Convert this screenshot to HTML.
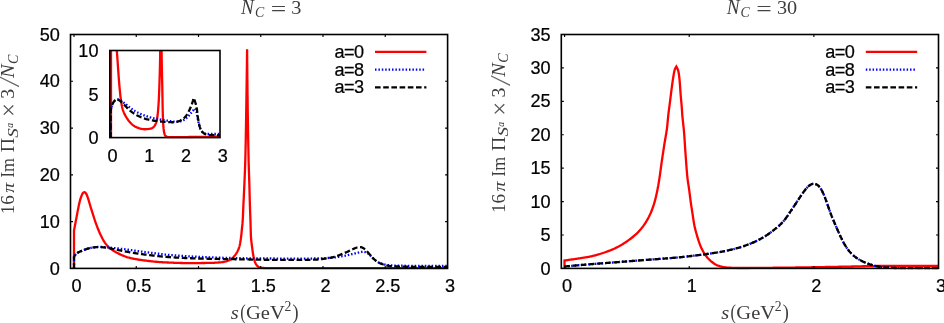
<!DOCTYPE html>
<html><head><meta charset="utf-8"><title>chart</title>
<style>html,body{margin:0;padding:0;background:#fff;overflow:hidden}svg{display:block;will-change:transform}</style>
</head><body>
<svg width="944" height="323" viewBox="0 0 944 323" font-family="Liberation Sans, sans-serif" fill="#000">
<rect width="944" height="323" fill="#fff"/>
<defs><clipPath id="cl"><rect x="70.50" y="34.50" width="377.10" height="234.90"/></clipPath><clipPath id="ci"><rect x="109.80" y="50.50" width="110.20" height="87.90"/></clipPath><clipPath id="cr"><rect x="561.30" y="34.50" width="377.20" height="234.90"/></clipPath></defs>
<g clip-path="url(#cl)">
<path d="M74.00,268.40 L74.00,230.50 L74.00,230.50 L74.15,229.71 L74.30,228.93 L74.46,228.14 L74.61,227.36 L74.76,226.57 L74.91,225.78 L75.06,225.00 L75.21,224.21 L75.36,223.43 L75.51,222.64 L75.66,221.85 L75.81,221.07 L75.96,220.28 L76.11,219.49 L76.26,218.71 L76.41,217.92 L76.55,217.13 L76.70,216.35 L76.85,215.56 L76.99,214.77 L77.14,213.99 L77.28,213.20 L77.43,212.41 L77.58,211.63 L77.73,210.84 L77.89,210.06 L78.05,209.27 L78.20,208.48 L78.36,207.70 L78.52,206.91 L78.68,206.13 L78.84,205.34 L79.00,204.56 L79.18,203.77 L79.35,202.99 L79.54,202.22 L79.73,201.44 L79.94,200.67 L80.15,199.90 L80.37,199.13 L80.61,198.36 L80.86,197.60 L81.13,196.84 L81.41,196.09 L81.71,195.35 L82.03,194.61 L82.38,193.89 L82.79,193.21 L83.29,192.64 L83.88,192.26 L84.52,192.21 L85.13,192.48 L85.67,193.00 L86.12,193.64 L86.51,194.35 L86.84,195.07 L87.15,195.80 L87.44,196.54 L87.71,197.29 L87.97,198.04 L88.22,198.80 L88.45,199.57 L88.68,200.34 L88.91,201.11 L89.13,201.89 L89.35,202.67 L89.57,203.44 L89.79,204.22 L90.01,204.99 L90.24,205.76 L90.48,206.53 L90.72,207.29 L90.96,208.06 L91.20,208.82 L91.44,209.58 L91.68,210.35 L91.92,211.11 L92.16,211.88 L92.40,212.64 L92.63,213.41 L92.87,214.17 L93.11,214.94 L93.35,215.70 L93.60,216.46 L93.84,217.23 L94.09,217.99 L94.34,218.75 L94.59,219.51 L94.85,220.26 L95.11,221.02 L95.37,221.77 L95.64,222.53 L95.91,223.28 L96.18,224.03 L96.46,224.78 L96.74,225.54 L97.02,226.29 L97.30,227.04 L97.59,227.79 L97.88,228.54 L98.17,229.28 L98.47,230.03 L98.78,230.77 L99.09,231.51 L99.40,232.24 L99.73,232.98 L100.05,233.70 L100.39,234.43 L100.73,235.15 L101.08,235.87 L101.43,236.59 L101.79,237.31 L102.16,238.03 L102.54,238.74 L102.93,239.45 L103.32,240.16 L103.73,240.85 L104.15,241.53 L104.59,242.20 L105.03,242.86 L105.49,243.49 L105.98,244.12 L106.48,244.73 L107.01,245.33 L107.56,245.92 L108.13,246.49 L108.71,247.05 L109.31,247.59 L109.91,248.12 L110.53,248.62 L111.16,249.12 L111.80,249.59 L112.45,250.06 L113.12,250.50 L113.80,250.94 L114.49,251.35 L115.18,251.75 L115.87,252.14 L116.58,252.52 L117.28,252.90 L117.99,253.27 L118.71,253.63 L119.43,253.99 L120.16,254.34 L120.89,254.69 L121.62,255.03 L122.36,255.35 L123.11,255.67 L123.85,255.97 L124.60,256.26 L125.35,256.54 L126.10,256.80 L126.86,257.05 L127.62,257.28 L128.38,257.49 L129.14,257.70 L129.91,257.90 L130.68,258.09 L131.46,258.27 L132.24,258.45 L133.03,258.62 L133.82,258.78 L134.61,258.93 L135.40,259.08 L136.19,259.23 L136.98,259.37 L137.78,259.50 L138.57,259.63 L139.36,259.75 L140.15,259.86 L140.94,259.97 L141.73,260.08 L142.53,260.19 L143.32,260.30 L144.11,260.40 L144.90,260.51 L145.70,260.61 L146.49,260.71 L147.29,260.81 L148.08,260.91 L148.88,261.00 L149.67,261.10 L150.47,261.19 L151.27,261.28 L152.06,261.37 L152.86,261.45 L153.66,261.53 L154.46,261.61 L155.25,261.69 L156.05,261.76 L156.85,261.84 L157.65,261.91 L158.45,261.97 L159.25,262.03 L160.05,262.09 L160.84,262.15 L161.64,262.20 L162.44,262.25 L163.24,262.30 L164.04,262.34 L164.84,262.38 L165.64,262.42 L166.43,262.45 L167.23,262.49 L168.03,262.52 L168.83,262.56 L169.63,262.59 L170.43,262.62 L171.23,262.66 L172.03,262.69 L172.83,262.72 L173.63,262.75 L174.43,262.78 L175.23,262.81 L176.03,262.83 L176.83,262.86 L177.63,262.89 L178.43,262.91 L179.23,262.93 L180.03,262.96 L180.83,262.98 L181.63,263.00 L182.43,263.01 L183.24,263.03 L184.04,263.04 L184.84,263.06 L185.64,263.07 L186.44,263.08 L187.24,263.09 L188.04,263.09 L188.84,263.10 L189.64,263.10 L190.44,263.10 L191.24,263.10 L192.04,263.10 L192.84,263.09 L193.64,263.09 L194.44,263.09 L195.24,263.08 L196.04,263.08 L196.84,263.07 L197.64,263.07 L198.44,263.06 L199.25,263.05 L200.05,263.04 L200.85,263.03 L201.65,263.02 L202.45,263.01 L203.25,263.00 L204.05,262.99 L204.85,262.98 L205.65,262.97 L206.45,262.96 L207.25,262.94 L208.05,262.93 L208.85,262.92 L209.65,262.90 L210.45,262.88 L211.25,262.86 L212.05,262.84 L212.86,262.81 L213.66,262.78 L214.46,262.75 L215.27,262.71 L216.07,262.66 L216.87,262.61 L217.67,262.56 L218.47,262.50 L219.27,262.44 L220.06,262.38 L220.85,262.31 L221.64,262.23 L222.44,262.13 L223.23,262.01 L224.03,261.87 L224.84,261.70 L225.63,261.50 L226.42,261.28 L227.19,261.03 L227.94,260.77 L228.66,260.49 L229.36,260.18 L230.04,259.83 L230.70,259.43 L231.36,258.98 L232.00,258.47 L232.62,257.92 L233.22,257.34 L233.80,256.74 L234.35,256.12 L234.86,255.49 L235.35,254.86 L235.80,254.22 L236.23,253.57 L236.64,252.90 L237.04,252.20 L237.42,251.49 L237.79,250.76 L238.13,250.01 L238.45,249.26 L238.75,248.50 L239.01,247.74 L239.25,246.98 L239.46,246.22 L239.65,245.45 L239.82,244.68 L239.99,243.90 L240.14,243.12 L240.28,242.33 L240.42,241.54 L240.55,240.74 L240.67,239.94 L240.78,239.14 L240.89,238.34 L241.00,237.55 L241.10,236.75 L241.20,235.95 L241.30,235.16 L241.39,234.36 L241.47,233.57 L241.55,232.77 L241.63,231.97 L241.70,231.18 L241.77,230.38 L241.85,229.58 L241.93,228.78 L242.00,227.99 L242.09,227.19 L242.17,226.40 L242.26,225.60 L242.34,224.80 L242.42,224.01 L242.50,223.21 L242.56,222.41 L242.62,221.62 L242.67,220.82 L242.72,220.02 L242.77,219.22 L242.81,218.42 L242.85,217.62 L242.89,216.82 L242.93,216.02 L242.97,215.22 L243.00,214.42 L243.04,213.62 L243.07,212.82 L243.10,212.02 L243.14,211.22 L243.17,210.42 L243.20,209.62 L243.23,208.82 L243.27,208.02 L243.30,207.22 L243.34,206.42 L243.37,205.62 L243.41,204.82 L243.45,204.03 L243.48,203.23 L243.52,202.43 L243.56,201.63 L243.60,200.83 L243.64,200.03 L243.68,199.23 L243.72,198.43 L243.76,197.63 L243.80,196.83 L243.83,196.03 L243.87,195.23 L243.91,194.43 L243.95,193.63 L243.99,192.83 L244.03,192.03 L244.06,191.23 L244.10,190.43 L244.14,189.63 L244.17,188.83 L244.21,188.04 L244.25,187.24 L244.28,186.44 L244.32,185.64 L244.35,184.84 L244.38,184.04 L244.42,183.24 L244.45,182.44 L244.49,181.64 L244.52,180.84 L244.56,180.04 L244.59,179.24 L244.63,178.44 L244.66,177.64 L244.69,176.84 L244.73,176.04 L244.76,175.24 L244.79,174.44 L244.83,173.64 L244.86,172.84 L244.89,172.04 L244.92,171.24 L244.96,170.44 L244.99,169.64 L245.02,168.84 L245.05,168.04 L245.07,167.24 L245.10,166.44 L245.13,165.64 L245.16,164.84 L245.18,164.04 L245.21,163.24 L245.23,162.44 L245.25,161.64 L245.28,160.84 L245.30,160.04 L245.32,159.24 L245.34,158.44 L245.36,157.64 L245.38,156.84 L245.40,156.04 L245.42,155.24 L245.44,154.44 L245.46,153.64 L245.48,152.84 L245.49,152.04 L245.51,151.24 L245.53,150.44 L245.55,149.64 L245.57,148.84 L245.58,148.04 L245.60,147.24 L245.62,146.44 L245.63,145.64 L245.65,144.84 L245.67,144.04 L245.68,143.24 L245.70,142.44 L245.72,141.64 L245.73,140.84 L245.75,140.04 L245.76,139.24 L245.78,138.44 L245.79,137.64 L245.81,136.84 L245.82,136.04 L245.84,135.24 L245.85,134.44 L245.86,133.64 L245.88,132.84 L245.89,132.04 L245.91,131.23 L245.92,130.43 L245.93,129.63 L245.95,128.83 L245.96,128.03 L245.97,127.23 L245.99,126.43 L246.00,125.63 L246.01,124.83 L246.03,124.03 L246.04,123.23 L246.05,122.43 L246.07,121.63 L246.08,120.83 L246.09,120.03 L246.10,119.23 L246.12,118.43 L246.13,117.63 L246.14,116.83 L246.15,116.03 L246.17,115.23 L246.18,114.43 L246.19,113.63 L246.20,112.83 L246.21,112.03 L246.23,111.23 L246.24,110.43 L246.25,109.63 L246.26,108.82 L246.28,108.02 L246.29,107.22 L246.30,106.42 L246.31,105.62 L246.33,104.82 L246.34,104.02 L246.35,103.22 L246.36,102.42 L246.37,101.62 L246.39,100.82 L246.40,100.02 L246.41,99.22 L246.42,98.42 L246.44,97.62 L246.45,96.82 L246.46,96.02 L246.47,95.22 L246.49,94.42 L246.50,93.62 L246.51,92.82 L246.52,92.02 L246.53,91.22 L246.55,90.42 L246.56,89.62 L246.57,88.82 L246.58,88.02 L246.59,87.22 L246.61,86.42 L246.62,85.62 L246.63,84.82 L246.64,84.01 L246.65,83.21 L246.66,82.41 L246.68,81.61 L246.69,80.81 L246.70,80.01 L246.71,79.21 L246.72,78.41 L246.73,77.61 L246.74,76.81 L246.76,76.01 L246.77,75.21 L246.78,74.41 L246.79,73.61 L246.80,72.81 L246.81,72.01 L246.82,71.21 L246.83,70.41 L246.84,69.61 L246.85,68.81 L246.86,68.01 L246.88,67.21 L246.89,66.41 L246.90,65.61 L246.91,64.81 L246.92,64.01 L246.93,63.21 L246.94,62.41 L246.95,61.61 L246.96,60.81 L246.97,60.00 L246.98,59.20 L246.99,58.40 L247.00,57.60 L247.01,56.80 L247.02,56.00 L247.03,55.20 L247.04,54.40 L247.05,53.60 L247.06,52.80 L247.07,52.00 L247.08,51.20 L247.09,50.40 L247.10,49.60 L247.10,49.20 L247.11,50.00 L247.11,50.80 L247.12,51.60 L247.12,52.40 L247.13,53.20 L247.13,54.00 L247.14,54.80 L247.15,55.60 L247.15,56.41 L247.16,57.21 L247.16,58.01 L247.17,58.81 L247.18,59.61 L247.18,60.41 L247.19,61.21 L247.20,62.01 L247.20,62.81 L247.21,63.61 L247.22,64.41 L247.23,65.21 L247.23,66.01 L247.24,66.81 L247.25,67.61 L247.25,68.41 L247.26,69.21 L247.27,70.01 L247.28,70.82 L247.29,71.62 L247.29,72.42 L247.30,73.22 L247.31,74.02 L247.32,74.82 L247.32,75.62 L247.33,76.42 L247.34,77.22 L247.35,78.02 L247.36,78.82 L247.37,79.62 L247.37,80.42 L247.38,81.22 L247.39,82.02 L247.40,82.82 L247.41,83.62 L247.42,84.42 L247.43,85.22 L247.44,86.03 L247.44,86.83 L247.45,87.63 L247.46,88.43 L247.47,89.23 L247.48,90.03 L247.49,90.83 L247.50,91.63 L247.51,92.43 L247.52,93.23 L247.53,94.03 L247.54,94.83 L247.55,95.63 L247.56,96.43 L247.57,97.23 L247.58,98.03 L247.59,98.83 L247.60,99.63 L247.61,100.43 L247.62,101.24 L247.63,102.04 L247.64,102.84 L247.65,103.64 L247.66,104.44 L247.67,105.24 L247.68,106.04 L247.69,106.84 L247.70,107.64 L247.71,108.44 L247.72,109.24 L247.73,110.04 L247.74,110.84 L247.75,111.64 L247.76,112.44 L247.77,113.24 L247.78,114.04 L247.79,114.84 L247.81,115.64 L247.82,116.45 L247.83,117.25 L247.84,118.05 L247.85,118.85 L247.86,119.65 L247.88,120.45 L247.89,121.25 L247.90,122.05 L247.91,122.85 L247.92,123.65 L247.94,124.45 L247.95,125.25 L247.96,126.05 L247.97,126.85 L247.99,127.65 L248.00,128.45 L248.01,129.25 L248.02,130.05 L248.04,130.85 L248.05,131.65 L248.06,132.46 L248.08,133.26 L248.09,134.06 L248.10,134.86 L248.12,135.66 L248.13,136.46 L248.15,137.26 L248.16,138.06 L248.18,138.86 L248.19,139.66 L248.20,140.46 L248.22,141.26 L248.23,142.06 L248.25,142.86 L248.26,143.66 L248.28,144.46 L248.29,145.26 L248.31,146.06 L248.32,146.86 L248.34,147.66 L248.36,148.46 L248.37,149.26 L248.39,150.07 L248.40,150.87 L248.42,151.67 L248.44,152.47 L248.45,153.27 L248.47,154.07 L248.49,154.87 L248.51,155.67 L248.52,156.47 L248.54,157.27 L248.56,158.07 L248.58,158.87 L248.59,159.67 L248.61,160.47 L248.63,161.27 L248.65,162.07 L248.67,162.87 L248.69,163.67 L248.72,164.47 L248.74,165.27 L248.76,166.07 L248.79,166.87 L248.81,167.67 L248.83,168.47 L248.86,169.27 L248.89,170.07 L248.91,170.87 L248.94,171.67 L248.96,172.47 L248.99,173.27 L249.02,174.07 L249.04,174.87 L249.07,175.67 L249.10,176.47 L249.12,177.27 L249.15,178.07 L249.18,178.87 L249.20,179.67 L249.23,180.47 L249.26,181.28 L249.28,182.08 L249.31,182.88 L249.33,183.68 L249.35,184.48 L249.38,185.28 L249.40,186.08 L249.42,186.88 L249.45,187.68 L249.47,188.48 L249.49,189.28 L249.51,190.08 L249.53,190.88 L249.55,191.68 L249.57,192.48 L249.59,193.28 L249.61,194.08 L249.63,194.88 L249.65,195.68 L249.67,196.48 L249.69,197.28 L249.71,198.08 L249.73,198.88 L249.75,199.68 L249.77,200.48 L249.80,201.28 L249.82,202.08 L249.84,202.88 L249.86,203.68 L249.89,204.48 L249.91,205.28 L249.93,206.08 L249.96,206.88 L249.99,207.68 L250.01,208.48 L250.04,209.28 L250.07,210.08 L250.10,210.88 L250.13,211.68 L250.16,212.48 L250.19,213.28 L250.22,214.08 L250.25,214.88 L250.27,215.68 L250.30,216.48 L250.33,217.28 L250.36,218.09 L250.39,218.89 L250.42,219.69 L250.45,220.49 L250.48,221.29 L250.50,222.09 L250.53,222.89 L250.56,223.69 L250.58,224.49 L250.61,225.29 L250.63,226.09 L250.65,226.89 L250.67,227.69 L250.69,228.49 L250.71,229.29 L250.72,230.09 L250.74,230.89 L250.76,231.69 L250.78,232.49 L250.81,233.29 L250.83,234.09 L250.86,234.89 L250.90,235.69 L250.94,236.49 L250.99,237.29 L251.05,238.08 L251.11,238.88 L251.19,239.68 L251.27,240.48 L251.36,241.27 L251.45,242.07 L251.54,242.86 L251.64,243.66 L251.74,244.45 L251.84,245.25 L251.94,246.04 L252.04,246.84 L252.14,247.63 L252.25,248.43 L252.35,249.22 L252.46,250.02 L252.57,250.81 L252.68,251.61 L252.80,252.40 L252.92,253.19 L253.05,253.98 L253.19,254.77 L253.33,255.56 L253.48,256.34 L253.65,257.13 L253.82,257.92 L254.00,258.71 L254.20,259.50 L254.42,260.29 L254.65,261.06 L254.91,261.82 L255.19,262.56 L255.51,263.29 L255.87,263.99 L256.29,264.68 L256.76,265.33 L257.29,265.93 L257.87,266.45 L258.50,266.88 L259.17,267.22 L259.89,267.47 L260.65,267.66 L261.44,267.79 L262.24,267.89 L263.05,267.96 L263.85,268.00 L264.65,268.03 L265.45,268.05 L266.25,268.07 L267.05,268.09 L267.85,268.10 L268.65,268.12 L269.45,268.13 L270.25,268.14 L271.05,268.15 L271.86,268.16 L272.66,268.17 L273.46,268.17 L274.26,268.18 L275.07,268.18 L275.87,268.19 L276.67,268.19 L277.47,268.20 L278.27,268.20 L279.08,268.20 L279.88,268.20 L280.68,268.20 L281.48,268.20 L282.28,268.20 L283.08,268.20 L283.88,268.20 L284.68,268.20 L285.48,268.20 L286.28,268.20 L287.08,268.20 L287.88,268.20 L288.68,268.20 L289.48,268.20 L290.29,268.20 L291.09,268.20 L291.89,268.20 L292.69,268.20 L293.49,268.20 L294.29,268.20 L295.09,268.20 L295.89,268.20 L296.69,268.20 L297.49,268.20 L298.29,268.20 L299.09,268.20 L299.89,268.20 L300.69,268.20 L301.49,268.20 L302.29,268.20 L303.09,268.20 L303.89,268.20 L304.70,268.20 L305.50,268.20 L306.30,268.20 L307.10,268.20 L307.90,268.20 L308.70,268.20 L309.50,268.20 L310.30,268.20 L311.10,268.20 L311.90,268.20 L312.70,268.20 L313.50,268.20 L314.30,268.20 L315.10,268.20 L315.90,268.20 L316.70,268.20 L317.50,268.20 L318.30,268.20 L319.11,268.20 L319.91,268.20 L320.71,268.20 L321.51,268.20 L322.31,268.20 L323.11,268.20 L323.91,268.20 L324.71,268.20 L325.51,268.20 L326.31,268.20 L327.11,268.20 L327.91,268.20 L328.71,268.20 L329.51,268.20 L330.31,268.20 L331.11,268.20 L331.91,268.20 L332.71,268.20 L333.52,268.20 L334.32,268.20 L335.12,268.20 L335.92,268.20 L336.72,268.20 L337.52,268.20 L338.32,268.20 L339.12,268.20 L339.92,268.20 L340.72,268.20 L341.52,268.20 L342.32,268.20 L343.12,268.20 L343.92,268.20 L344.72,268.20 L345.52,268.20 L346.32,268.20 L347.12,268.20 L347.93,268.20 L348.73,268.20 L349.53,268.20 L350.33,268.20 L351.13,268.20 L351.93,268.20 L352.73,268.20 L353.53,268.20 L354.33,268.20 L355.13,268.20 L355.93,268.20 L356.73,268.20 L357.53,268.20 L358.33,268.20 L359.13,268.20 L359.93,268.20 L360.73,268.20 L361.54,268.20 L362.34,268.20 L363.14,268.20 L363.94,268.20 L364.74,268.20 L365.54,268.20 L366.34,268.20 L367.14,268.20 L367.94,268.20 L368.74,268.20 L369.54,268.20 L370.34,268.20 L371.14,268.20 L371.94,268.20 L372.74,268.20 L373.54,268.20 L374.34,268.20 L375.15,268.20 L375.95,268.20 L376.75,268.20 L377.55,268.20 L378.35,268.20 L379.15,268.20 L379.95,268.20 L380.75,268.20 L381.55,268.20 L382.35,268.20 L383.15,268.20 L383.95,268.20 L384.75,268.20 L385.55,268.20 L386.35,268.20 L387.15,268.20 L387.95,268.20 L388.76,268.20 L389.56,268.20 L390.36,268.20 L391.16,268.20 L391.96,268.20 L392.76,268.20 L393.56,268.20 L394.36,268.20 L395.16,268.20 L395.96,268.20 L396.76,268.20 L397.56,268.20 L398.36,268.20 L399.16,268.20 L399.96,268.20 L400.76,268.20 L401.56,268.20 L402.37,268.20 L403.17,268.20 L403.97,268.20 L404.77,268.20 L405.57,268.20 L406.37,268.20 L407.17,268.20 L407.97,268.20 L408.77,268.20 L409.57,268.20 L410.37,268.20 L411.17,268.20 L411.97,268.20 L412.77,268.20 L413.57,268.20 L414.37,268.20 L415.17,268.20 L415.98,268.20 L416.78,268.20 L417.58,268.20 L418.38,268.20 L419.18,268.20 L419.98,268.20 L420.78,268.20 L421.58,268.20 L422.38,268.20 L423.18,268.20 L423.98,268.20 L424.78,268.20 L425.58,268.20 L426.38,268.20 L427.18,268.20 L427.98,268.20 L428.79,268.20 L429.59,268.20 L430.39,268.20 L431.19,268.20 L431.99,268.20 L432.79,268.20 L433.59,268.20 L434.39,268.20 L435.19,268.20 L435.99,268.20 L436.79,268.20 L437.59,268.20 L438.39,268.20 L439.19,268.20 L439.99,268.20 L440.79,268.20 L441.60,268.20 L442.40,268.20 L443.20,268.20 L444.00,268.20 L444.80,268.20 L445.60,268.20 L446.40,268.20 L447.20,268.20 L447.60,268.20" fill="none" stroke="#ff0000" stroke-width="2.3" stroke-linejoin="miter" stroke-miterlimit="12"/>
<path d="M74.00,268.40 L74.00,257.00 L74.00,257.00 L74.39,256.28 L74.79,255.58 L75.24,254.93 L75.74,254.33 L76.29,253.78 L76.90,253.30 L77.55,252.85 L78.24,252.45 L78.95,252.08 L79.67,251.73 L80.40,251.40 L81.13,251.09 L81.88,250.78 L82.62,250.49 L83.37,250.20 L84.12,249.92 L84.87,249.64 L85.63,249.36 L86.38,249.09 L87.14,248.84 L87.90,248.60 L88.67,248.38 L89.44,248.19 L90.22,248.01 L91.00,247.86 L91.79,247.71 L92.58,247.58 L93.37,247.46 L94.17,247.35 L94.96,247.25 L95.76,247.16 L96.55,247.08 L97.35,247.01 L98.15,246.97 L98.95,246.95 L99.74,246.94 L100.54,246.96 L101.34,246.99 L102.14,247.03 L102.94,247.07 L103.74,247.12 L104.54,247.17 L105.34,247.22 L106.14,247.28 L106.93,247.35 L107.73,247.42 L108.53,247.49 L109.32,247.57 L110.12,247.65 L110.91,247.74 L111.71,247.82 L112.51,247.90 L113.30,247.98 L114.10,248.06 L114.89,248.14 L115.69,248.22 L116.49,248.31 L117.28,248.39 L118.08,248.48 L118.87,248.56 L119.67,248.65 L120.46,248.74 L121.26,248.84 L122.05,248.93 L122.85,249.03 L123.64,249.13 L124.43,249.23 L125.23,249.33 L126.02,249.44 L126.81,249.55 L127.61,249.65 L128.40,249.76 L129.19,249.87 L129.98,249.98 L130.78,250.09 L131.57,250.20 L132.36,250.31 L133.15,250.42 L133.95,250.53 L134.74,250.64 L135.53,250.76 L136.32,250.87 L137.11,250.99 L137.91,251.10 L138.70,251.21 L139.49,251.33 L140.28,251.44 L141.08,251.54 L141.87,251.65 L142.66,251.76 L143.45,251.86 L144.25,251.96 L145.04,252.06 L145.84,252.16 L146.63,252.26 L147.42,252.36 L148.22,252.46 L149.01,252.55 L149.81,252.65 L150.60,252.75 L151.39,252.84 L152.19,252.94 L152.98,253.04 L153.78,253.14 L154.57,253.24 L155.37,253.34 L156.16,253.44 L156.95,253.54 L157.75,253.65 L158.54,253.75 L159.33,253.85 L160.13,253.95 L160.92,254.05 L161.72,254.15 L162.51,254.25 L163.30,254.34 L164.10,254.43 L164.89,254.52 L165.69,254.60 L166.49,254.69 L167.28,254.76 L168.08,254.84 L168.87,254.91 L169.67,254.98 L170.47,255.05 L171.26,255.12 L172.06,255.19 L172.86,255.25 L173.66,255.31 L174.45,255.38 L175.25,255.44 L176.05,255.50 L176.85,255.56 L177.64,255.62 L178.44,255.68 L179.24,255.73 L180.04,255.79 L180.84,255.84 L181.64,255.89 L182.44,255.95 L183.23,256.00 L184.03,256.05 L184.83,256.10 L185.63,256.15 L186.43,256.19 L187.23,256.24 L188.03,256.29 L188.83,256.33 L189.62,256.38 L190.42,256.42 L191.22,256.46 L192.02,256.51 L192.82,256.55 L193.62,256.59 L194.42,256.63 L195.22,256.67 L196.02,256.71 L196.81,256.75 L197.61,256.79 L198.41,256.83 L199.21,256.86 L200.01,256.90 L200.81,256.94 L201.61,256.97 L202.41,257.01 L203.21,257.04 L204.01,257.08 L204.81,257.11 L205.61,257.14 L206.41,257.18 L207.21,257.21 L208.01,257.24 L208.81,257.27 L209.61,257.30 L210.40,257.33 L211.20,257.36 L212.00,257.39 L212.80,257.42 L213.60,257.45 L214.40,257.48 L215.20,257.51 L216.00,257.53 L216.80,257.56 L217.60,257.59 L218.40,257.62 L219.20,257.65 L220.00,257.67 L220.80,257.70 L221.60,257.73 L222.40,257.75 L223.20,257.78 L224.00,257.81 L224.80,257.83 L225.60,257.86 L226.40,257.88 L227.20,257.91 L228.00,257.93 L228.80,257.96 L229.60,257.98 L230.40,258.00 L231.20,258.02 L232.00,258.04 L232.80,258.06 L233.60,258.08 L234.40,258.10 L235.20,258.12 L235.99,258.14 L236.79,258.15 L237.59,258.17 L238.39,258.18 L239.19,258.19 L239.99,258.21 L240.79,258.22 L241.59,258.23 L242.39,258.24 L243.19,258.25 L243.99,258.26 L244.79,258.27 L245.59,258.28 L246.39,258.29 L247.19,258.30 L247.99,258.31 L248.79,258.32 L249.59,258.33 L250.39,258.34 L251.19,258.35 L251.99,258.36 L252.79,258.37 L253.59,258.38 L254.39,258.38 L255.19,258.39 L255.99,258.40 L256.79,258.41 L257.59,258.41 L258.39,258.42 L259.19,258.43 L259.99,258.43 L260.80,258.44 L261.60,258.45 L262.40,258.45 L263.20,258.46 L264.00,258.46 L264.80,258.47 L265.60,258.47 L266.40,258.48 L267.20,258.48 L268.00,258.49 L268.80,258.49 L269.60,258.50 L270.40,258.50 L271.20,258.51 L272.00,258.51 L272.80,258.51 L273.60,258.52 L274.40,258.52 L275.20,258.53 L276.00,258.53 L276.80,258.53 L277.60,258.54 L278.40,258.54 L279.20,258.55 L280.00,258.55 L280.80,258.55 L281.60,258.56 L282.40,258.56 L283.20,258.56 L284.00,258.57 L284.80,258.57 L285.60,258.57 L286.40,258.58 L287.20,258.58 L288.00,258.58 L288.80,258.58 L289.60,258.59 L290.40,258.59 L291.20,258.59 L292.00,258.59 L292.80,258.59 L293.60,258.59 L294.40,258.60 L295.20,258.60 L296.00,258.60 L296.80,258.60 L297.60,258.60 L298.40,258.60 L299.20,258.60 L300.00,258.60 L300.80,258.60 L301.60,258.59 L302.40,258.59 L303.20,258.59 L304.00,258.59 L304.80,258.58 L305.60,258.58 L306.40,258.57 L307.20,258.56 L308.00,258.56 L308.80,258.55 L309.60,258.54 L310.40,258.54 L311.20,258.53 L312.00,258.52 L312.80,258.51 L313.60,258.50 L314.40,258.49 L315.20,258.48 L316.00,258.46 L316.80,258.44 L317.60,258.43 L318.40,258.40 L319.20,258.38 L320.00,258.36 L320.80,258.33 L321.60,258.30 L322.40,258.27 L323.21,258.23 L324.01,258.20 L324.80,258.16 L325.60,258.12 L326.40,258.08 L327.20,258.04 L328.00,257.99 L328.80,257.95 L329.59,257.90 L330.39,257.84 L331.19,257.79 L331.98,257.72 L332.78,257.65 L333.57,257.57 L334.37,257.48 L335.16,257.38 L335.95,257.28 L336.75,257.16 L337.54,257.04 L338.33,256.91 L339.12,256.78 L339.91,256.65 L340.70,256.51 L341.49,256.37 L342.28,256.23 L343.07,256.09 L343.85,255.94 L344.64,255.79 L345.42,255.64 L346.20,255.48 L346.99,255.31 L347.77,255.14 L348.55,254.96 L349.33,254.78 L350.11,254.60 L350.89,254.42 L351.67,254.23 L352.45,254.05 L353.22,253.86 L354.00,253.67 L354.78,253.48 L355.55,253.28 L356.33,253.09 L357.11,252.89 L357.88,252.70 L358.66,252.51 L359.44,252.33 L360.23,252.16 L361.01,252.01 L361.80,251.88 L362.59,251.81 L363.37,251.80 L364.15,251.87 L364.92,252.03 L365.67,252.26 L366.41,252.56 L367.12,252.92 L367.80,253.32 L368.45,253.76 L369.08,254.25 L369.69,254.78 L370.28,255.33 L370.85,255.90 L371.42,256.47 L371.97,257.06 L372.52,257.66 L373.07,258.25 L373.62,258.82 L374.19,259.38 L374.78,259.91 L375.39,260.41 L376.03,260.88 L376.69,261.34 L377.38,261.76 L378.08,262.16 L378.79,262.53 L379.52,262.87 L380.25,263.17 L380.99,263.44 L381.74,263.68 L382.50,263.91 L383.27,264.12 L384.04,264.32 L384.83,264.51 L385.62,264.68 L386.41,264.84 L387.21,264.98 L388.01,265.10 L388.80,265.21 L389.60,265.29 L390.40,265.35 L391.19,265.40 L391.99,265.44 L392.78,265.48 L393.58,265.51 L394.37,265.53 L395.17,265.56 L395.97,265.59 L396.77,265.61 L397.57,265.63 L398.37,265.65 L399.17,265.67 L399.97,265.69 L400.77,265.71 L401.58,265.72 L402.38,265.73 L403.18,265.75 L403.98,265.76 L404.79,265.77 L405.59,265.78 L406.39,265.78 L407.19,265.79 L407.99,265.79 L408.79,265.80 L409.60,265.80 L410.40,265.80 L411.20,265.80 L412.00,265.80 L412.80,265.80 L413.60,265.80 L414.40,265.80 L415.20,265.80 L416.00,265.80 L416.80,265.80 L417.60,265.80 L418.40,265.80 L419.20,265.80 L420.00,265.80 L420.80,265.80 L421.60,265.80 L422.40,265.80 L423.20,265.80 L424.00,265.80 L424.80,265.80 L425.60,265.80 L426.40,265.80 L427.20,265.80 L428.00,265.80 L428.80,265.80 L429.60,265.80 L430.40,265.80 L431.20,265.80 L432.00,265.80 L432.80,265.80 L433.60,265.80 L434.40,265.80 L435.20,265.80 L436.00,265.80 L436.80,265.80 L437.60,265.80 L438.40,265.80 L439.20,265.80 L440.00,265.80 L440.80,265.80 L441.60,265.80 L442.40,265.80 L443.20,265.80 L444.00,265.80 L444.80,265.80 L445.60,265.80 L446.40,265.80 L447.20,265.80 L447.60,265.80" fill="none" stroke="#0000ff" stroke-width="2.3" stroke-linejoin="round" stroke-miterlimit="12" stroke-dasharray="1.5 1.9"/>
<path d="M74.00,268.40 L74.00,257.00 L74.00,257.00 L74.39,256.28 L74.80,255.58 L75.24,254.93 L75.74,254.33 L76.29,253.78 L76.90,253.29 L77.55,252.85 L78.24,252.45 L78.95,252.08 L79.67,251.73 L80.40,251.40 L81.14,251.08 L81.88,250.78 L82.63,250.49 L83.38,250.20 L84.13,249.91 L84.88,249.63 L85.63,249.36 L86.39,249.09 L87.15,248.83 L87.91,248.60 L88.68,248.38 L89.45,248.18 L90.23,248.01 L91.02,247.85 L91.80,247.70 L92.59,247.57 L93.39,247.46 L94.18,247.36 L94.98,247.27 L95.77,247.19 L96.57,247.13 L97.37,247.08 L98.17,247.06 L98.97,247.05 L99.77,247.06 L100.57,247.09 L101.37,247.14 L102.17,247.21 L102.96,247.28 L103.76,247.36 L104.56,247.45 L105.35,247.55 L106.14,247.67 L106.93,247.79 L107.72,247.93 L108.50,248.08 L109.29,248.23 L110.08,248.39 L110.86,248.56 L111.65,248.72 L112.43,248.88 L113.22,249.04 L114.00,249.20 L114.79,249.35 L115.57,249.51 L116.36,249.67 L117.14,249.83 L117.92,249.99 L118.71,250.14 L119.49,250.30 L120.28,250.46 L121.07,250.61 L121.85,250.77 L122.64,250.92 L123.42,251.07 L124.21,251.23 L124.99,251.38 L125.78,251.53 L126.57,251.68 L127.35,251.83 L128.14,251.98 L128.93,252.12 L129.72,252.27 L130.50,252.41 L131.29,252.54 L132.08,252.68 L132.87,252.81 L133.66,252.93 L134.45,253.06 L135.24,253.18 L136.03,253.31 L136.83,253.43 L137.62,253.55 L138.41,253.66 L139.20,253.78 L139.99,253.89 L140.79,254.00 L141.58,254.11 L142.37,254.22 L143.17,254.33 L143.96,254.43 L144.75,254.54 L145.55,254.64 L146.34,254.74 L147.14,254.84 L147.93,254.94 L148.73,255.03 L149.52,255.13 L150.32,255.22 L151.11,255.32 L151.91,255.41 L152.70,255.50 L153.50,255.59 L154.29,255.68 L155.09,255.77 L155.88,255.86 L156.68,255.95 L157.48,256.03 L158.27,256.12 L159.07,256.21 L159.86,256.29 L160.66,256.37 L161.46,256.46 L162.25,256.54 L163.05,256.61 L163.85,256.69 L164.65,256.76 L165.44,256.83 L166.24,256.89 L167.04,256.95 L167.84,257.01 L168.63,257.07 L169.43,257.13 L170.23,257.18 L171.03,257.23 L171.83,257.28 L172.63,257.34 L173.43,257.39 L174.22,257.43 L175.02,257.48 L175.82,257.53 L176.62,257.57 L177.42,257.62 L178.22,257.66 L179.02,257.71 L179.82,257.75 L180.62,257.79 L181.42,257.83 L182.22,257.87 L183.02,257.91 L183.82,257.94 L184.62,257.98 L185.42,258.01 L186.22,258.05 L187.02,258.08 L187.82,258.11 L188.62,258.15 L189.42,258.18 L190.22,258.21 L191.02,258.24 L191.82,258.26 L192.62,258.29 L193.42,258.32 L194.22,258.35 L195.02,258.37 L195.82,258.40 L196.62,258.43 L197.42,258.45 L198.22,258.48 L199.02,258.50 L199.82,258.52 L200.62,258.55 L201.42,258.57 L202.22,258.59 L203.02,258.61 L203.82,258.64 L204.62,258.66 L205.42,258.68 L206.22,258.70 L207.02,258.72 L207.82,258.74 L208.62,258.76 L209.42,258.78 L210.22,258.80 L211.03,258.81 L211.83,258.83 L212.63,258.85 L213.43,258.87 L214.23,258.88 L215.03,258.90 L215.83,258.92 L216.63,258.93 L217.43,258.95 L218.23,258.96 L219.03,258.98 L219.83,258.99 L220.63,259.01 L221.43,259.02 L222.23,259.03 L223.03,259.05 L223.83,259.06 L224.63,259.07 L225.43,259.08 L226.23,259.10 L227.03,259.11 L227.83,259.12 L228.63,259.13 L229.43,259.15 L230.24,259.16 L231.04,259.17 L231.84,259.18 L232.64,259.19 L233.44,259.21 L234.24,259.22 L235.04,259.23 L235.84,259.24 L236.64,259.25 L237.44,259.27 L238.24,259.28 L239.04,259.29 L239.84,259.31 L240.64,259.32 L241.44,259.33 L242.24,259.35 L243.04,259.36 L243.84,259.38 L244.64,259.39 L245.44,259.41 L246.24,259.42 L247.04,259.44 L247.84,259.45 L248.65,259.47 L249.45,259.49 L250.25,259.50 L251.05,259.52 L251.85,259.53 L252.65,259.55 L253.45,259.57 L254.25,259.58 L255.05,259.60 L255.85,259.61 L256.65,259.63 L257.45,259.64 L258.25,259.65 L259.05,259.67 L259.85,259.68 L260.65,259.69 L261.45,259.71 L262.25,259.72 L263.05,259.73 L263.85,259.74 L264.65,259.75 L265.45,259.76 L266.25,259.77 L267.06,259.78 L267.86,259.78 L268.66,259.79 L269.46,259.80 L270.26,259.80 L271.06,259.81 L271.86,259.81 L272.66,259.81 L273.46,259.82 L274.26,259.82 L275.06,259.83 L275.86,259.83 L276.66,259.84 L277.46,259.84 L278.26,259.84 L279.06,259.85 L279.86,259.85 L280.66,259.85 L281.46,259.86 L282.27,259.86 L283.07,259.86 L283.87,259.87 L284.67,259.87 L285.47,259.87 L286.27,259.88 L287.07,259.88 L287.87,259.88 L288.67,259.88 L289.47,259.89 L290.27,259.89 L291.07,259.89 L291.87,259.89 L292.67,259.89 L293.47,259.89 L294.27,259.90 L295.07,259.90 L295.87,259.90 L296.68,259.90 L297.48,259.90 L298.28,259.90 L299.08,259.90 L299.88,259.90 L300.68,259.89 L301.48,259.89 L302.28,259.89 L303.08,259.88 L303.88,259.87 L304.68,259.86 L305.49,259.85 L306.29,259.84 L307.09,259.83 L307.89,259.82 L308.69,259.81 L309.49,259.79 L310.29,259.78 L311.09,259.76 L311.89,259.74 L312.69,259.72 L313.49,259.70 L314.29,259.67 L315.08,259.64 L315.88,259.60 L316.68,259.55 L317.49,259.50 L318.29,259.44 L319.09,259.36 L319.89,259.29 L320.69,259.20 L321.49,259.11 L322.29,259.01 L323.09,258.91 L323.88,258.80 L324.68,258.69 L325.47,258.57 L326.27,258.44 L327.06,258.32 L327.85,258.19 L328.63,258.05 L329.41,257.91 L330.20,257.77 L330.97,257.62 L331.75,257.46 L332.52,257.29 L333.29,257.09 L334.06,256.89 L334.83,256.66 L335.59,256.42 L336.35,256.17 L337.11,255.91 L337.87,255.64 L338.63,255.35 L339.38,255.07 L340.13,254.77 L340.88,254.48 L341.63,254.18 L342.38,253.88 L343.12,253.58 L343.86,253.28 L344.60,252.98 L345.34,252.66 L346.07,252.34 L346.80,252.02 L347.53,251.68 L348.25,251.35 L348.98,251.00 L349.70,250.66 L350.43,250.32 L351.15,249.98 L351.88,249.64 L352.61,249.30 L353.34,248.97 L354.07,248.63 L354.80,248.31 L355.54,248.00 L356.29,247.73 L357.05,247.49 L357.82,247.30 L358.60,247.17 L359.38,247.11 L360.16,247.12 L360.94,247.23 L361.70,247.42 L362.43,247.69 L363.13,248.03 L363.80,248.43 L364.44,248.89 L365.06,249.41 L365.65,249.95 L366.23,250.52 L366.79,251.11 L367.35,251.70 L367.89,252.30 L368.41,252.91 L368.93,253.53 L369.44,254.15 L369.95,254.78 L370.45,255.41 L370.96,256.03 L371.48,256.64 L372.01,257.24 L372.56,257.81 L373.12,258.37 L373.71,258.90 L374.31,259.43 L374.93,259.94 L375.56,260.45 L376.21,260.94 L376.87,261.41 L377.55,261.87 L378.23,262.29 L378.93,262.69 L379.63,263.05 L380.34,263.38 L381.06,263.69 L381.79,263.97 L382.54,264.24 L383.29,264.49 L384.06,264.73 L384.83,264.96 L385.62,265.17 L386.41,265.37 L387.20,265.55 L387.99,265.70 L388.79,265.84 L389.58,265.95 L390.37,266.04 L391.17,266.11 L391.96,266.17 L392.75,266.23 L393.54,266.28 L394.34,266.32 L395.13,266.37 L395.93,266.41 L396.73,266.45 L397.53,266.48 L398.33,266.52 L399.13,266.55 L399.93,266.58 L400.74,266.61 L401.54,266.64 L402.34,266.66 L403.15,266.69 L403.95,266.71 L404.76,266.72 L405.56,266.74 L406.36,266.76 L407.17,266.77 L407.97,266.78 L408.77,266.79 L409.57,266.79 L410.37,266.80 L411.17,266.81 L411.97,266.81 L412.78,266.81 L413.58,266.82 L414.38,266.82 L415.18,266.83 L415.98,266.83 L416.78,266.83 L417.58,266.84 L418.38,266.84 L419.18,266.84 L419.98,266.85 L420.78,266.85 L421.58,266.85 L422.38,266.86 L423.18,266.86 L423.98,266.86 L424.78,266.86 L425.58,266.87 L426.38,266.87 L427.18,266.87 L427.98,266.87 L428.78,266.88 L429.58,266.88 L430.38,266.88 L431.19,266.88 L431.99,266.88 L432.79,266.88 L433.59,266.89 L434.39,266.89 L435.19,266.89 L435.99,266.89 L436.79,266.89 L437.59,266.89 L438.39,266.89 L439.19,266.90 L439.99,266.90 L440.79,266.90 L441.59,266.90 L442.39,266.90 L443.20,266.90 L444.00,266.90 L444.80,266.90 L445.60,266.90 L446.40,266.90 L447.20,266.90 L447.60,266.90" fill="none" stroke="#000000" stroke-width="2.3" stroke-linejoin="round" stroke-miterlimit="12" stroke-dasharray="5.6 2.6"/>
</g>
<rect x="70.50" y="34.50" width="377.10" height="233.90" fill="none" stroke="#000" stroke-width="1.6"/>
<path d="M74.00,268.40 v-2.50 M74.00,34.50 v2.50 M136.25,268.40 v-2.50 M136.25,34.50 v2.50 M198.50,268.40 v-2.50 M198.50,34.50 v2.50 M260.75,268.40 v-2.50 M260.75,34.50 v2.50 M323.00,268.40 v-2.50 M323.00,34.50 v2.50 M385.25,268.40 v-2.50 M385.25,34.50 v2.50 M70.50,221.62 h2.50 M447.60,221.62 h-2.50 M70.50,174.84 h2.50 M447.60,174.84 h-2.50 M70.50,128.06 h2.50 M447.60,128.06 h-2.50 M70.50,81.28 h2.50 M447.60,81.28 h-2.50" stroke="#000" stroke-width="1.15" fill="none"/>
<text x="59.90" y="274.50" text-anchor="end" font-size="18.1" stroke="#000" stroke-width="0.22" >0</text>
<text x="59.90" y="227.72" text-anchor="end" font-size="18.1" stroke="#000" stroke-width="0.22" >10</text>
<text x="59.90" y="180.94" text-anchor="end" font-size="18.1" stroke="#000" stroke-width="0.22" >20</text>
<text x="59.90" y="134.16" text-anchor="end" font-size="18.1" stroke="#000" stroke-width="0.22" >30</text>
<text x="59.90" y="87.38" text-anchor="end" font-size="18.1" stroke="#000" stroke-width="0.22" >40</text>
<text x="59.90" y="40.60" text-anchor="end" font-size="18.1" stroke="#000" stroke-width="0.22" >50</text>
<text x="76.50" y="291.60" text-anchor="middle" font-size="18.1" stroke="#000" stroke-width="0.22" >0</text>
<text x="138.75" y="291.60" text-anchor="middle" font-size="18.1" stroke="#000" stroke-width="0.22" >0.5</text>
<text x="201.00" y="291.60" text-anchor="middle" font-size="18.1" stroke="#000" stroke-width="0.22" >1</text>
<text x="263.25" y="291.60" text-anchor="middle" font-size="18.1" stroke="#000" stroke-width="0.22" >1.5</text>
<text x="325.50" y="291.60" text-anchor="middle" font-size="18.1" stroke="#000" stroke-width="0.22" >2</text>
<text x="387.75" y="291.60" text-anchor="middle" font-size="18.1" stroke="#000" stroke-width="0.22" >2.5</text>
<text x="450.00" y="291.60" text-anchor="middle" font-size="18.1" stroke="#000" stroke-width="0.22" >3</text>
<rect x="109.80" y="50.50" width="110.20" height="87.10" fill="#fff"/>
<g clip-path="url(#ci)">
<path d="M111.00,137.60 L111.00,45.00 L111.00,45.00 L111.17,43.65 L111.33,42.33 L111.50,41.04 L111.66,39.81 L111.83,38.64 L111.99,37.54 L112.15,36.51 L112.30,35.54 L112.46,34.65 L112.61,33.84 L112.76,33.10 L112.91,32.44 L113.06,31.86 L113.20,31.36 L113.34,30.95 L113.48,30.62 L113.62,30.39 L113.75,30.25 L113.88,30.20 L114.01,30.26 L114.14,30.42 L114.27,30.68 L114.40,31.03 L114.52,31.48 L114.65,32.01 L114.77,32.62 L114.89,33.31 L115.01,34.06 L115.13,34.87 L115.25,35.74 L115.37,36.65 L115.48,37.60 L115.59,38.58 L115.70,39.58 L115.81,40.61 L115.92,41.65 L116.02,42.69 L116.12,43.73 L116.22,44.76 L116.32,45.78 L116.41,46.78 L116.50,47.75 L116.58,48.68 L116.67,49.59 L116.75,50.45 L116.83,51.29 L116.90,52.11 L116.97,52.92 L117.04,53.72 L117.10,54.51 L117.17,55.31 L117.23,56.11 L117.29,56.91 L117.35,57.71 L117.41,58.50 L117.46,59.30 L117.52,60.10 L117.57,60.90 L117.63,61.70 L117.68,62.50 L117.73,63.30 L117.79,64.09 L117.84,64.89 L117.90,65.69 L117.95,66.49 L118.01,67.29 L118.06,68.09 L118.12,68.89 L118.18,69.68 L118.24,70.48 L118.29,71.28 L118.35,72.08 L118.41,72.88 L118.47,73.68 L118.53,74.47 L118.58,75.27 L118.64,76.07 L118.70,76.87 L118.75,77.67 L118.81,78.47 L118.87,79.26 L118.93,80.06 L118.99,80.86 L119.05,81.66 L119.12,82.46 L119.18,83.25 L119.25,84.05 L119.32,84.85 L119.38,85.64 L119.46,86.44 L119.53,87.24 L119.61,88.04 L119.68,88.83 L119.76,89.63 L119.84,90.43 L119.92,91.24 L119.99,92.04 L120.08,92.85 L120.16,93.65 L120.24,94.46 L120.33,95.26 L120.42,96.07 L120.51,96.87 L120.60,97.67 L120.70,98.47 L120.80,99.27 L120.91,100.07 L121.02,100.87 L121.14,101.66 L121.26,102.45 L121.38,103.23 L121.51,104.01 L121.65,104.79 L121.80,105.56 L121.95,106.33 L122.12,107.09 L122.30,107.85 L122.50,108.61 L122.72,109.37 L122.96,110.13 L123.23,110.89 L123.52,111.65 L123.83,112.41 L124.16,113.16 L124.51,113.90 L124.87,114.64 L125.25,115.36 L125.64,116.08 L126.05,116.78 L126.46,117.47 L126.88,118.15 L127.32,118.81 L127.76,119.46 L128.21,120.10 L128.69,120.73 L129.19,121.35 L129.71,121.97 L130.25,122.59 L130.82,123.19 L131.41,123.77 L132.02,124.33 L132.64,124.86 L133.28,125.35 L133.93,125.81 L134.59,126.23 L135.27,126.61 L135.96,126.95 L136.66,127.28 L137.39,127.58 L138.14,127.87 L138.90,128.15 L139.68,128.40 L140.46,128.63 L141.26,128.82 L142.06,128.98 L142.86,129.11 L143.66,129.19 L144.47,129.23 L145.28,129.23 L146.10,129.20 L146.93,129.15 L147.76,129.08 L148.57,128.98 L149.37,128.86 L150.14,128.72 L150.88,128.55 L151.58,128.32 L152.25,128.01 L152.88,127.61 L153.48,127.11 L154.03,126.52 L154.54,125.87 L154.98,125.18 L155.35,124.48 L155.67,123.76 L155.94,123.04 L156.18,122.31 L156.39,121.56 L156.59,120.80 L156.77,120.02 L156.93,119.22 L157.09,118.42 L157.23,117.61 L157.36,116.79 L157.48,115.98 L157.59,115.16 L157.69,114.35 L157.78,113.54 L157.87,112.73 L157.95,111.93 L158.02,111.14 L158.09,110.34 L158.16,109.55 L158.22,108.75 L158.28,107.96 L158.34,107.16 L158.40,106.36 L158.46,105.57 L158.51,104.77 L158.56,103.97 L158.61,103.17 L158.66,102.37 L158.71,101.57 L158.75,100.77 L158.80,99.97 L158.84,99.17 L158.88,98.37 L158.92,97.57 L158.95,96.77 L158.99,95.96 L159.03,95.16 L159.06,94.36 L159.09,93.56 L159.12,92.76 L159.16,91.96 L159.19,91.16 L159.22,90.36 L159.24,89.56 L159.27,88.76 L159.30,87.96 L159.33,87.16 L159.36,86.36 L159.38,85.56 L159.41,84.76 L159.44,83.96 L159.46,83.16 L159.49,82.36 L159.52,81.56 L159.54,80.76 L159.57,79.96 L159.59,79.16 L159.62,78.36 L159.64,77.56 L159.67,76.76 L159.69,75.96 L159.71,75.16 L159.74,74.36 L159.76,73.56 L159.78,72.76 L159.80,71.96 L159.82,71.16 L159.85,70.36 L159.87,69.56 L159.89,68.76 L159.91,67.96 L159.93,67.16 L159.94,66.36 L159.96,65.56 L159.98,64.76 L160.00,63.96 L160.01,63.16 L160.03,62.36 L160.05,61.56 L160.06,60.76 L160.07,59.96 L160.09,59.16 L160.10,58.36 L160.11,57.56 L160.13,56.76 L160.14,55.96 L160.15,55.16 L160.16,54.36 L160.17,53.56 L160.17,52.76 L160.18,51.96 L160.19,51.16 L160.20,50.36 L160.20,49.55 L160.21,48.74 L160.21,47.93 L160.22,47.12 L160.22,46.30 L160.23,45.47 L160.24,44.64 L160.24,43.81 L160.25,42.97 L160.25,42.12 L160.26,41.27 L160.26,40.42 L160.27,39.56 L160.27,38.70 L160.28,37.83 L160.28,36.96 L160.29,36.09 L160.29,35.21 L160.30,34.32 L160.30,33.43 L160.31,32.54 L160.31,31.64 L160.32,30.74 L160.32,29.84 L160.33,28.93 L160.33,28.01 L160.34,27.10 L160.34,26.18 L160.34,25.25 L160.35,24.33 L160.35,23.39 L160.36,22.46 L160.36,21.52 L160.37,20.58 L160.37,19.63 L160.38,18.68 L160.38,17.73 L160.38,16.77 L160.39,15.81 L160.39,14.85 L160.40,13.89 L160.40,12.92 L160.41,11.94 L160.41,10.97 L160.41,9.99 L160.42,9.01 L160.42,8.03 L160.43,7.04 L160.43,6.05 L160.43,5.06 L160.44,4.06 L160.44,3.07 L160.45,2.07 L160.45,1.06 L160.45,0.06 L160.46,-0.95 L160.46,-1.96 L160.46,-2.97 L160.47,-3.98 L160.47,-5.00 L160.48,-6.02 L160.48,-7.04 L160.48,-8.06 L160.49,-9.09 L160.49,-10.12 L160.49,-11.15 L160.50,-12.18 L160.50,-13.21 L160.50,-14.24 L160.51,-15.28 L160.51,-16.32 L160.51,-17.36 L160.52,-18.40 L160.52,-19.44 L160.52,-20.49 L160.53,-21.53 L160.53,-22.58 L160.53,-23.63 L160.54,-24.68 L160.54,-25.73 L160.54,-26.78 L160.55,-27.84 L160.55,-28.89 L160.55,-29.95 L160.56,-31.01 L160.56,-32.06 L160.56,-33.12 L160.57,-34.18 L160.57,-35.24 L160.57,-36.30 L160.58,-37.36 L160.58,-38.43 L160.58,-39.49 L160.58,-40.55 L160.59,-41.62 L160.59,-42.68 L160.59,-43.75 L160.60,-44.81 L160.60,-45.88 L160.60,-46.95 L160.60,-48.01 L160.61,-49.08 L160.61,-50.15 L160.61,-51.21 L160.61,-52.28 L160.62,-53.35 L160.62,-54.41 L160.62,-55.48 L160.63,-56.55 L160.63,-57.61 L160.63,-58.68 L160.63,-59.74 L160.64,-60.81 L160.64,-61.87 L160.64,-62.94 L160.64,-64.00 L160.65,-65.07 L160.65,-66.13 L160.65,-67.19 L160.65,-68.25 L160.65,-69.31 L160.66,-70.37 L160.66,-71.43 L160.66,-72.49 L160.66,-73.55 L160.67,-74.60 L160.67,-75.66 L160.67,-76.71 L160.67,-77.76 L160.68,-78.82 L160.68,-79.87 L160.68,-80.91 L160.68,-81.96 L160.68,-83.01 L160.69,-84.05 L160.69,-85.10 L160.69,-86.14 L160.69,-87.18 L160.70,-88.22 L160.70,-89.25 L160.70,-90.29 L160.70,-91.32 L160.70,-92.35 L160.71,-93.38 L160.71,-94.41 L160.71,-95.44 L160.71,-96.46 L160.71,-97.48 L160.72,-98.50 L160.72,-99.52 L160.72,-100.53 L160.72,-101.55 L160.72,-102.56 L160.73,-103.56 L160.73,-104.57 L160.73,-105.57 L160.73,-106.57 L160.73,-107.57 L160.74,-108.57 L160.74,-109.56 L160.74,-110.55 L160.74,-111.54 L160.74,-112.52 L160.74,-113.50 L160.75,-114.48 L160.75,-115.46 L160.75,-116.43 L160.75,-117.40 L160.75,-118.37 L160.76,-119.33 L160.76,-120.29 L160.76,-121.25 L160.76,-122.20 L160.76,-123.15 L160.76,-124.10 L160.77,-125.04 L160.77,-125.98 L160.77,-126.91 L160.77,-127.85 L160.77,-128.78 L160.77,-129.70 L160.78,-130.62 L160.78,-131.54 L160.78,-132.45 L160.78,-133.36 L160.78,-134.27 L160.78,-135.17 L160.79,-136.07 L160.79,-136.96 L160.79,-137.85 L160.79,-138.74 L160.79,-139.62 L160.79,-140.50 L160.80,-141.37 L160.80,-142.24 L160.80,-143.10 L160.80,-143.96 L160.80,-144.81 L160.80,-145.66 L160.81,-146.51 L160.81,-147.35 L160.81,-148.19 L160.81,-149.02 L160.81,-149.84 L160.81,-150.66 L160.82,-151.48 L160.82,-152.29 L160.82,-153.10 L160.82,-153.90 L160.82,-154.70 L160.82,-155.49 L160.82,-156.27 L160.83,-157.05 L160.83,-157.83 L160.83,-158.60 L160.83,-159.36 L160.83,-160.12 L160.83,-160.88 L160.84,-161.62 L160.84,-162.36 L160.84,-163.10 L160.84,-163.83 L160.84,-164.56 L160.84,-165.28 L160.84,-165.99 L160.85,-166.70 L160.85,-167.40 L160.85,-168.09 L160.85,-168.78 L160.85,-169.47 L160.85,-170.14 L160.86,-170.81 L160.86,-171.48 L160.86,-172.14 L160.86,-172.79 L160.86,-173.43 L160.86,-174.07 L160.86,-174.71 L160.87,-175.33 L160.87,-175.95 L160.87,-176.56 L160.87,-177.17 L160.87,-177.77 L160.87,-178.36 L160.88,-178.95 L160.88,-179.52 L160.88,-180.10 L160.88,-180.66 L160.88,-181.22 L160.88,-181.77 L160.89,-182.31 L160.89,-182.85 L160.89,-183.38 L160.89,-183.90 L160.89,-184.41 L160.89,-184.92 L160.90,-185.42 L160.90,-185.91 L160.90,-186.40 L160.90,-186.87 L160.90,-187.34 L160.90,-187.80 L160.91,-188.26 L160.91,-188.70 L160.91,-189.14 L160.91,-189.57 L160.91,-189.99 L160.91,-190.41 L160.92,-190.81 L160.92,-191.21 L160.92,-191.60 L160.92,-191.98 L160.92,-192.36 L160.92,-192.72 L160.93,-193.08 L160.93,-193.43 L160.93,-193.77 L160.93,-194.10 L160.93,-194.42 L160.93,-194.74 L160.94,-195.04 L160.94,-195.34 L160.94,-195.63 L160.94,-195.91 L160.94,-196.18 L160.95,-196.44 L160.95,-196.69 L160.95,-196.94 L160.95,-197.17 L160.95,-197.40 L160.96,-197.61 L160.96,-197.82 L160.96,-198.02 L160.96,-198.21 L160.96,-198.39 L160.96,-198.56 L160.97,-198.72 L160.97,-198.87 L160.97,-199.02 L160.97,-199.15 L160.97,-199.27 L160.98,-199.38 L160.98,-199.49 L160.98,-199.58 L160.98,-199.67 L160.99,-199.74 L160.99,-199.80 L160.99,-199.86 L160.99,-199.90 L160.99,-199.94 L161.00,-199.96 L161.00,-199.98 L161.00,-199.98 L161.00,-199.97 L161.00,-199.96 L161.01,-199.93 L161.01,-199.89 L161.01,-199.85 L161.01,-199.79 L161.02,-199.72 L161.02,-199.65 L161.02,-199.56 L161.02,-199.46 L161.02,-199.36 L161.03,-199.24 L161.03,-199.12 L161.03,-198.98 L161.03,-198.84 L161.03,-198.68 L161.04,-198.52 L161.04,-198.35 L161.04,-198.17 L161.04,-197.97 L161.04,-197.77 L161.04,-197.56 L161.05,-197.35 L161.05,-197.12 L161.05,-196.88 L161.05,-196.63 L161.05,-196.38 L161.06,-196.11 L161.06,-195.84 L161.06,-195.56 L161.06,-195.27 L161.06,-194.97 L161.06,-194.66 L161.07,-194.35 L161.07,-194.02 L161.07,-193.69 L161.07,-193.34 L161.07,-192.99 L161.07,-192.64 L161.08,-192.27 L161.08,-191.89 L161.08,-191.51 L161.08,-191.12 L161.08,-190.72 L161.08,-190.31 L161.08,-189.89 L161.09,-189.47 L161.09,-189.04 L161.09,-188.60 L161.09,-188.15 L161.09,-187.69 L161.09,-187.23 L161.10,-186.76 L161.10,-186.28 L161.10,-185.80 L161.10,-185.30 L161.10,-184.80 L161.10,-184.29 L161.10,-183.78 L161.10,-183.25 L161.11,-182.72 L161.11,-182.18 L161.11,-181.64 L161.11,-181.09 L161.11,-180.53 L161.11,-179.96 L161.11,-179.39 L161.12,-178.81 L161.12,-178.22 L161.12,-177.63 L161.12,-177.03 L161.12,-176.42 L161.12,-175.81 L161.12,-175.18 L161.13,-174.56 L161.13,-173.92 L161.13,-173.28 L161.13,-172.64 L161.13,-171.98 L161.13,-171.32 L161.13,-170.66 L161.13,-169.98 L161.14,-169.31 L161.14,-168.62 L161.14,-167.93 L161.14,-167.23 L161.14,-166.53 L161.14,-165.82 L161.14,-165.11 L161.14,-164.39 L161.14,-163.66 L161.15,-162.93 L161.15,-162.19 L161.15,-161.45 L161.15,-160.70 L161.15,-159.94 L161.15,-159.18 L161.15,-158.42 L161.15,-157.65 L161.16,-156.87 L161.16,-156.09 L161.16,-155.30 L161.16,-154.51 L161.16,-153.71 L161.16,-152.91 L161.16,-152.10 L161.16,-151.29 L161.16,-150.47 L161.17,-149.65 L161.17,-148.82 L161.17,-147.99 L161.17,-147.15 L161.17,-146.31 L161.17,-145.46 L161.17,-144.61 L161.17,-143.76 L161.18,-142.90 L161.18,-142.03 L161.18,-141.16 L161.18,-140.29 L161.18,-139.41 L161.18,-138.53 L161.18,-137.64 L161.18,-136.75 L161.18,-135.86 L161.19,-134.96 L161.19,-134.06 L161.19,-133.15 L161.19,-132.24 L161.19,-131.33 L161.19,-130.41 L161.19,-129.48 L161.19,-128.56 L161.20,-127.63 L161.20,-126.70 L161.20,-125.76 L161.20,-124.82 L161.20,-123.87 L161.20,-122.93 L161.20,-121.98 L161.20,-121.02 L161.20,-120.06 L161.21,-119.10 L161.21,-118.14 L161.21,-117.17 L161.21,-116.20 L161.21,-115.23 L161.21,-114.25 L161.21,-113.27 L161.21,-112.29 L161.22,-111.31 L161.22,-110.32 L161.22,-109.33 L161.22,-108.33 L161.22,-107.34 L161.22,-106.34 L161.22,-105.34 L161.22,-104.33 L161.23,-103.33 L161.23,-102.32 L161.23,-101.31 L161.23,-100.30 L161.23,-99.28 L161.23,-98.26 L161.23,-97.24 L161.24,-96.22 L161.24,-95.20 L161.24,-94.17 L161.24,-93.14 L161.24,-92.11 L161.24,-91.08 L161.24,-90.05 L161.24,-89.01 L161.25,-87.97 L161.25,-86.93 L161.25,-85.89 L161.25,-84.85 L161.25,-83.81 L161.25,-82.76 L161.26,-81.72 L161.26,-80.67 L161.26,-79.62 L161.26,-78.57 L161.26,-77.52 L161.26,-76.46 L161.26,-75.41 L161.27,-74.35 L161.27,-73.30 L161.27,-72.24 L161.27,-71.18 L161.27,-70.12 L161.27,-69.06 L161.28,-68.00 L161.28,-66.94 L161.28,-65.88 L161.28,-64.82 L161.28,-63.75 L161.28,-62.69 L161.29,-61.62 L161.29,-60.56 L161.29,-59.49 L161.29,-58.43 L161.29,-57.36 L161.29,-56.30 L161.30,-55.23 L161.30,-54.16 L161.30,-53.10 L161.30,-52.03 L161.30,-50.96 L161.30,-49.90 L161.31,-48.83 L161.31,-47.76 L161.31,-46.70 L161.31,-45.63 L161.31,-44.56 L161.32,-43.50 L161.32,-42.43 L161.32,-41.37 L161.32,-40.30 L161.32,-39.24 L161.33,-38.18 L161.33,-37.12 L161.33,-36.05 L161.33,-34.99 L161.33,-33.93 L161.34,-32.87 L161.34,-31.81 L161.34,-30.76 L161.34,-29.70 L161.35,-28.64 L161.35,-27.59 L161.35,-26.54 L161.35,-25.48 L161.35,-24.43 L161.36,-23.38 L161.36,-22.34 L161.36,-21.29 L161.36,-20.24 L161.37,-19.20 L161.37,-18.16 L161.37,-17.11 L161.37,-16.08 L161.38,-15.04 L161.38,-14.00 L161.38,-12.97 L161.38,-11.93 L161.38,-10.90 L161.39,-9.88 L161.39,-8.85 L161.39,-7.82 L161.40,-6.80 L161.40,-5.78 L161.40,-4.76 L161.40,-3.75 L161.41,-2.73 L161.41,-1.72 L161.41,-0.71 L161.41,0.30 L161.42,1.30 L161.42,2.30 L161.42,3.30 L161.42,4.30 L161.43,5.29 L161.43,6.28 L161.43,7.27 L161.44,8.26 L161.44,9.24 L161.44,10.22 L161.45,11.20 L161.45,12.17 L161.45,13.14 L161.45,14.11 L161.46,15.08 L161.46,16.04 L161.46,17.00 L161.47,17.95 L161.47,18.91 L161.47,19.85 L161.48,20.80 L161.48,21.74 L161.48,22.68 L161.49,23.61 L161.49,24.54 L161.49,25.47 L161.50,26.40 L161.50,27.31 L161.50,28.23 L161.51,29.14 L161.51,30.05 L161.51,30.95 L161.52,31.85 L161.52,32.75 L161.52,33.64 L161.53,34.53 L161.53,35.41 L161.54,36.29 L161.54,37.17 L161.54,38.04 L161.55,38.90 L161.55,39.77 L161.55,40.62 L161.56,41.48 L161.56,42.32 L161.57,43.17 L161.57,44.01 L161.57,44.84 L161.58,45.67 L161.58,46.49 L161.59,47.31 L161.59,48.13 L161.59,48.94 L161.60,49.74 L161.60,50.55 L161.61,51.35 L161.62,52.15 L161.62,52.95 L161.63,53.75 L161.64,54.55 L161.65,55.35 L161.66,56.15 L161.67,56.95 L161.68,57.75 L161.69,58.55 L161.70,59.35 L161.71,60.15 L161.73,60.95 L161.74,61.75 L161.75,62.55 L161.77,63.35 L161.78,64.15 L161.80,64.95 L161.81,65.75 L161.83,66.55 L161.85,67.35 L161.86,68.15 L161.88,68.95 L161.90,69.75 L161.91,70.55 L161.93,71.35 L161.95,72.15 L161.97,72.95 L161.98,73.75 L162.00,74.55 L162.02,75.35 L162.04,76.15 L162.06,76.95 L162.08,77.75 L162.09,78.55 L162.11,79.35 L162.13,80.15 L162.15,80.95 L162.17,81.75 L162.18,82.55 L162.20,83.35 L162.22,84.15 L162.24,84.95 L162.25,85.75 L162.27,86.55 L162.29,87.35 L162.30,88.15 L162.32,88.95 L162.33,89.75 L162.35,90.55 L162.36,91.35 L162.38,92.15 L162.39,92.95 L162.41,93.75 L162.42,94.55 L162.43,95.35 L162.45,96.15 L162.46,96.95 L162.47,97.75 L162.49,98.55 L162.50,99.36 L162.51,100.16 L162.53,100.96 L162.54,101.76 L162.55,102.56 L162.57,103.36 L162.58,104.16 L162.60,104.96 L162.61,105.76 L162.63,106.56 L162.65,107.36 L162.66,108.16 L162.68,108.96 L162.70,109.76 L162.72,110.56 L162.74,111.36 L162.76,112.16 L162.78,112.96 L162.80,113.76 L162.82,114.56 L162.85,115.36 L162.87,116.15 L162.90,116.95 L162.92,117.75 L162.95,118.55 L162.98,119.35 L163.01,120.15 L163.05,120.95 L163.08,121.75 L163.12,122.55 L163.17,123.36 L163.22,124.16 L163.27,124.96 L163.33,125.76 L163.40,126.56 L163.47,127.36 L163.55,128.15 L163.63,128.95 L163.73,129.76 L163.83,130.58 L163.96,131.42 L164.10,132.27 L164.27,133.11 L164.47,133.93 L164.72,134.68 L165.03,135.34 L165.42,135.89 L165.91,136.33 L166.52,136.66 L167.22,136.90 L167.97,137.05 L168.76,137.13 L169.56,137.17 L170.35,137.18 L171.15,137.18 L171.95,137.18 L172.75,137.17 L173.55,137.17 L174.36,137.16 L175.16,137.15 L175.97,137.14 L176.77,137.13 L177.58,137.12 L178.38,137.12 L179.19,137.11 L179.99,137.10 L180.79,137.09 L181.59,137.09 L182.39,137.08 L183.19,137.07 L183.99,137.06 L184.79,137.06 L185.59,137.05 L186.39,137.04 L187.19,137.03 L187.99,137.03 L188.79,137.02 L189.59,137.01 L190.40,137.00 L191.20,137.00 L192.00,136.99 L192.80,136.98 L193.60,136.97 L194.40,136.97 L195.20,136.96 L196.00,136.95 L196.80,136.94 L197.60,136.94 L198.40,136.93 L199.20,136.92 L200.00,136.91 L200.80,136.90 L201.60,136.90 L202.40,136.89 L203.20,136.88 L204.00,136.87 L204.80,136.86 L205.60,136.86 L206.40,136.85 L207.20,136.84 L208.00,136.83 L208.80,136.82 L209.60,136.81 L210.40,136.80 L211.20,136.80 L212.00,136.79 L212.80,136.78 L213.60,136.77 L214.40,136.76 L215.20,136.75 L216.00,136.74 L216.80,136.74 L217.60,136.73 L218.40,136.72 L219.20,136.71 L220.00,136.70" fill="none" stroke="#ff0000" stroke-width="2.3" stroke-linejoin="miter" stroke-miterlimit="12"/>
<path d="M110.60,137.60 L110.60,111.50 L110.60,111.50 L110.73,110.70 L110.86,109.91 L111.01,109.11 L111.17,108.33 L111.36,107.55 L111.57,106.77 L111.80,106.00 L112.05,105.23 L112.33,104.47 L112.65,103.73 L113.01,103.01 L113.41,102.31 L113.86,101.65 L114.37,101.03 L114.94,100.47 L115.57,100.00 L116.23,99.67 L116.94,99.49 L117.67,99.46 L118.41,99.57 L119.16,99.79 L119.89,100.08 L120.60,100.43 L121.29,100.83 L121.96,101.27 L122.62,101.74 L123.26,102.23 L123.90,102.73 L124.54,103.23 L125.17,103.73 L125.79,104.23 L126.41,104.74 L127.04,105.25 L127.66,105.76 L128.29,106.26 L128.92,106.75 L129.55,107.24 L130.20,107.72 L130.84,108.20 L131.50,108.67 L132.16,109.13 L132.82,109.58 L133.49,110.03 L134.16,110.46 L134.84,110.89 L135.53,111.30 L136.22,111.69 L136.92,112.08 L137.63,112.46 L138.34,112.82 L139.06,113.18 L139.79,113.53 L140.52,113.87 L141.25,114.20 L141.99,114.52 L142.73,114.83 L143.48,115.13 L144.23,115.41 L144.98,115.69 L145.73,115.95 L146.49,116.21 L147.26,116.45 L148.02,116.69 L148.79,116.92 L149.57,117.14 L150.34,117.36 L151.12,117.56 L151.90,117.76 L152.68,117.94 L153.46,118.13 L154.24,118.30 L155.03,118.47 L155.81,118.63 L156.60,118.78 L157.39,118.94 L158.18,119.09 L158.97,119.23 L159.75,119.38 L160.54,119.52 L161.33,119.66 L162.13,119.80 L162.92,119.94 L163.71,120.07 L164.50,120.20 L165.29,120.33 L166.08,120.46 L166.88,120.59 L167.67,120.72 L168.46,120.86 L169.26,120.99 L170.05,121.12 L170.85,121.25 L171.64,121.36 L172.44,121.45 L173.24,121.51 L174.04,121.55 L174.84,121.58 L175.65,121.59 L176.45,121.60 L177.26,121.59 L178.05,121.58 L178.84,121.54 L179.62,121.47 L180.39,121.34 L181.15,121.15 L181.91,120.88 L182.65,120.55 L183.38,120.17 L184.09,119.75 L184.77,119.31 L185.44,118.84 L186.07,118.36 L186.69,117.86 L187.28,117.33 L187.85,116.77 L188.40,116.19 L188.94,115.59 L189.48,114.97 L190.00,114.35 L190.52,113.73 L191.04,113.11 L191.56,112.49 L192.07,111.87 L192.58,111.25 L193.08,110.62 L193.58,109.99 L194.07,109.36 L194.56,108.72 L194.80,108.40 L195.24,109.07 L195.64,109.76 L195.99,110.46 L196.28,111.18 L196.51,111.93 L196.70,112.69 L196.85,113.48 L196.99,114.27 L197.12,115.08 L197.25,115.88 L197.39,116.69 L197.53,117.49 L197.67,118.29 L197.82,119.09 L197.98,119.88 L198.14,120.67 L198.30,121.46 L198.47,122.25 L198.64,123.04 L198.82,123.83 L199.01,124.61 L199.21,125.39 L199.43,126.16 L199.66,126.92 L199.92,127.68 L200.20,128.44 L200.51,129.18 L200.87,129.90 L201.26,130.60 L201.70,131.27 L202.20,131.89 L202.75,132.44 L203.36,132.90 L204.03,133.25 L204.75,133.51 L205.51,133.69 L206.30,133.82 L207.10,133.90 L207.92,133.95 L208.73,133.98 L209.53,133.99 L210.34,134.00 L211.14,134.00 L211.94,134.00 L212.75,134.00 L213.55,134.00 L214.35,134.00 L215.16,134.00 L215.96,134.00 L216.77,134.00 L217.58,134.00 L218.38,134.00 L219.19,134.00 L220.00,134.00" fill="none" stroke="#0000ff" stroke-width="2.3" stroke-linejoin="round" stroke-miterlimit="12" stroke-dasharray="1.5 1.9"/>
<path d="M110.60,137.60 L110.60,111.50 L110.60,111.50 L110.73,110.70 L110.86,109.91 L111.01,109.11 L111.17,108.33 L111.36,107.55 L111.57,106.77 L111.80,106.00 L112.05,105.23 L112.33,104.47 L112.65,103.73 L113.01,103.01 L113.41,102.31 L113.87,101.65 L114.38,101.03 L114.95,100.47 L115.57,100.01 L116.23,99.70 L116.90,99.57 L117.59,99.63 L118.29,99.85 L118.97,100.20 L119.65,100.62 L120.30,101.10 L120.93,101.61 L121.54,102.13 L122.14,102.68 L122.72,103.24 L123.29,103.80 L123.86,104.38 L124.43,104.95 L124.98,105.54 L125.54,106.12 L126.08,106.71 L126.63,107.30 L127.18,107.89 L127.74,108.47 L128.30,109.04 L128.88,109.59 L129.47,110.13 L130.07,110.65 L130.69,111.16 L131.32,111.66 L131.96,112.14 L132.61,112.61 L133.28,113.07 L133.95,113.52 L134.62,113.95 L135.31,114.37 L136.00,114.76 L136.70,115.15 L137.41,115.52 L138.12,115.89 L138.85,116.24 L139.58,116.58 L140.31,116.91 L141.05,117.23 L141.80,117.53 L142.55,117.82 L143.30,118.10 L144.06,118.36 L144.82,118.61 L145.59,118.84 L146.35,119.07 L147.13,119.28 L147.91,119.49 L148.69,119.68 L149.47,119.86 L150.26,120.04 L151.04,120.20 L151.83,120.35 L152.62,120.49 L153.41,120.62 L154.20,120.75 L155.00,120.87 L155.79,120.98 L156.59,121.08 L157.39,121.18 L158.18,121.27 L158.98,121.36 L159.78,121.44 L160.58,121.52 L161.38,121.59 L162.18,121.66 L162.98,121.72 L163.78,121.78 L164.58,121.84 L165.38,121.90 L166.18,121.95 L166.98,122.00 L167.79,122.04 L168.59,122.09 L169.40,122.13 L170.20,122.17 L171.01,122.21 L171.81,122.23 L172.61,122.25 L173.40,122.25 L174.20,122.22 L174.99,122.15 L175.79,122.03 L176.58,121.87 L177.36,121.66 L178.14,121.41 L178.90,121.13 L179.64,120.82 L180.37,120.49 L181.07,120.13 L181.75,119.73 L182.42,119.30 L183.07,118.82 L183.69,118.31 L184.30,117.76 L184.87,117.19 L185.41,116.60 L185.92,115.99 L186.40,115.36 L186.86,114.71 L187.29,114.05 L187.70,113.36 L188.10,112.66 L188.48,111.94 L188.84,111.21 L189.20,110.48 L189.55,109.75 L189.89,109.01 L190.22,108.28 L190.54,107.54 L190.85,106.80 L191.15,106.06 L191.44,105.31 L191.71,104.55 L191.97,103.80 L192.22,103.03 L192.46,102.27 L192.69,101.50 L192.91,100.73 L193.11,99.95 L193.31,99.17 L193.51,98.39 L193.60,98.00 L193.91,98.74 L194.21,99.49 L194.51,100.24 L194.79,100.99 L195.07,101.75 L195.33,102.51 L195.59,103.28 L195.82,104.05 L196.05,104.82 L196.25,105.60 L196.42,106.38 L196.58,107.16 L196.72,107.95 L196.84,108.74 L196.95,109.54 L197.05,110.34 L197.14,111.14 L197.23,111.94 L197.32,112.74 L197.40,113.55 L197.49,114.35 L197.59,115.15 L197.68,115.95 L197.79,116.75 L197.90,117.55 L198.02,118.35 L198.15,119.15 L198.29,119.95 L198.43,120.75 L198.57,121.55 L198.73,122.35 L198.89,123.15 L199.07,123.95 L199.25,124.74 L199.45,125.52 L199.66,126.29 L199.88,127.06 L200.14,127.81 L200.42,128.54 L200.74,129.26 L201.10,129.97 L201.51,130.65 L201.97,131.32 L202.47,131.95 L203.00,132.55 L203.58,133.09 L204.21,133.55 L204.88,133.93 L205.60,134.24 L206.35,134.47 L207.13,134.65 L207.93,134.79 L208.73,134.90 L209.54,134.99 L210.34,135.05 L211.14,135.10 L211.95,135.15 L212.75,135.18 L213.56,135.21 L214.36,135.23 L215.17,135.24 L215.97,135.26 L216.78,135.27 L217.58,135.28 L218.39,135.29 L219.19,135.29 L220.00,135.30" fill="none" stroke="#000000" stroke-width="2.3" stroke-linejoin="round" stroke-miterlimit="12" stroke-dasharray="5.6 2.6"/>
</g>
<rect x="109.80" y="50.50" width="110.20" height="87.10" fill="none" stroke="#000" stroke-width="1.6"/>
<text x="98.50" y="144.30" text-anchor="end" font-size="18.1" stroke="#000" stroke-width="0.22" >0</text>
<text x="98.50" y="100.75" text-anchor="end" font-size="18.1" stroke="#000" stroke-width="0.22" >5</text>
<text x="98.50" y="57.20" text-anchor="end" font-size="18.1" stroke="#000" stroke-width="0.22" >10</text>
<text x="112.50" y="161.90" text-anchor="middle" font-size="18.1" stroke="#000" stroke-width="0.22" >0</text>
<text x="149.23" y="161.90" text-anchor="middle" font-size="18.1" stroke="#000" stroke-width="0.22" >1</text>
<text x="185.97" y="161.90" text-anchor="middle" font-size="18.1" stroke="#000" stroke-width="0.22" >2</text>
<text x="222.70" y="161.90" text-anchor="middle" font-size="18.1" stroke="#000" stroke-width="0.22" >3</text>
<text x="363.60" y="57.80" text-anchor="end" font-size="18.1" stroke="#000" stroke-width="0.22" letter-spacing="-0.5">a=0</text>
<text x="363.60" y="75.60" text-anchor="end" font-size="18.1" stroke="#000" stroke-width="0.22" letter-spacing="-0.5">a=8</text>
<text x="363.60" y="93.30" text-anchor="end" font-size="18.1" stroke="#000" stroke-width="0.22" letter-spacing="-0.5">a=3</text>
<path d="M375.00,51.90 H426.40" stroke="#ff0000" stroke-width="2.2"/>
<path d="M375.00,69.70 H424.70" stroke="#0000ff" stroke-width="2.2" stroke-dasharray="1.5 1.9"/>
<path d="M375.00,87.40 H426.40" stroke="#000000" stroke-width="2.2" stroke-dasharray="5.6 2.6"/>
<g transform="translate(14.20,212.70) rotate(-90)"><text transform="translate(-1.46,0.00) scale(1.018,1)" font-family="Liberation Serif, serif" font-style="normal" font-size="18.6" fill="#3c3c3c">16</text><text transform="translate(19.99,0.00) scale(1.168,1)" font-family="Liberation Serif, serif" font-style="italic" font-size="17" fill="#3c3c3c">π</text><text transform="translate(34.85,0.00) scale(0.920,1)" font-family="Liberation Serif, serif" font-style="normal" font-size="19.5" fill="#3c3c3c">Im</text><text transform="translate(60.53,0.00) scale(1.019,1)" font-family="Liberation Serif, serif" font-style="normal" font-size="19.5" fill="#3c3c3c">Π</text><text transform="translate(74.98,3.50) scale(1.362,1)" font-family="Liberation Serif, serif" font-style="italic" font-size="14" fill="#3c3c3c">S</text><text transform="translate(84.92,-1.40) scale(1.019,1)" font-family="Liberation Serif, serif" font-style="italic" font-size="9.3" fill="#3c3c3c">a</text><text transform="translate(95.76,3.20) scale(0.983,1)" font-family="Liberation Serif, serif" font-style="normal" font-size="25" fill="#555">×</text><text transform="translate(114.05,0.00) scale(1.067,1)" font-family="Liberation Serif, serif" font-style="normal" font-size="18.6" fill="#3c3c3c">3</text><text transform="translate(126.74,4.70) scale(0.948,1)" font-family="Liberation Serif, serif" font-style="italic" font-size="28.5" fill="#666">/</text><text transform="translate(134.75,0.00) scale(1.046,1)" font-family="Liberation Serif, serif" font-style="italic" font-size="19.5" fill="#3c3c3c">N</text><text transform="translate(148.82,3.50) scale(1.001,1)" font-family="Liberation Serif, serif" font-style="italic" font-size="14" fill="#3c3c3c">C</text></g>
<text transform="translate(230.85,319.40) scale(1.101,1)" font-family="Liberation Serif, serif" font-style="italic" font-size="18.6" fill="#3c3c3c">s</text><text transform="translate(240.18,319.40) scale(0.779,1)" font-family="Liberation Serif, serif" font-style="normal" font-size="21" fill="#3c3c3c">(</text><text transform="translate(245.96,319.40) scale(1.037,1)" font-family="Liberation Serif, serif" font-style="normal" font-size="19.8" fill="#3c3c3c">GeV</text><text transform="translate(284.40,310.90) scale(0.994,1)" font-family="Liberation Serif, serif" font-style="normal" font-size="13.8" fill="#3c3c3c">2</text><text transform="translate(292.41,319.40) scale(0.871,1)" font-family="Liberation Serif, serif" font-style="normal" font-size="21" fill="#3c3c3c">)</text>
<text transform="translate(241.04,13.60) scale(0.964,1)" font-family="Liberation Serif, serif" font-style="italic" font-size="20" fill="#3c3c3c">N</text><text transform="translate(254.93,16.60) scale(0.990,1)" font-family="Liberation Serif, serif" font-style="italic" font-size="14" fill="#3c3c3c">C</text><text transform="translate(270.73,15.50) scale(1.310,1)" font-family="Liberation Serif, serif" font-style="normal" font-size="21" fill="#444">=</text><text transform="translate(291.33,13.60) scale(1.093,1)" font-family="Liberation Serif, serif" font-style="normal" font-size="18.6" fill="#3c3c3c">3</text>
<g clip-path="url(#cr)">
<path d="M564.50,268.40 L564.50,260.50 L564.50,260.50 L565.29,260.39 L566.09,260.28 L566.88,260.17 L567.67,260.06 L568.47,259.95 L569.26,259.84 L570.05,259.73 L570.84,259.61 L571.64,259.50 L572.43,259.38 L573.22,259.27 L574.01,259.15 L574.81,259.03 L575.60,258.91 L576.39,258.79 L577.18,258.67 L577.97,258.55 L578.77,258.44 L579.56,258.32 L580.35,258.20 L581.15,258.09 L581.94,257.97 L582.73,257.85 L583.53,257.73 L584.32,257.61 L585.11,257.48 L585.90,257.35 L586.69,257.22 L587.48,257.08 L588.26,256.93 L589.05,256.78 L589.83,256.63 L590.61,256.47 L591.39,256.30 L592.17,256.12 L592.95,255.93 L593.73,255.74 L594.51,255.54 L595.28,255.34 L596.06,255.12 L596.83,254.91 L597.60,254.68 L598.37,254.46 L599.14,254.23 L599.91,253.99 L600.67,253.75 L601.44,253.51 L602.20,253.26 L602.96,253.01 L603.72,252.76 L604.47,252.50 L605.23,252.24 L605.98,251.98 L606.74,251.70 L607.49,251.43 L608.24,251.14 L608.99,250.85 L609.74,250.56 L610.49,250.26 L611.23,249.95 L611.97,249.64 L612.71,249.33 L613.45,249.00 L614.18,248.68 L614.91,248.34 L615.63,248.00 L616.35,247.66 L617.07,247.31 L617.78,246.95 L618.48,246.59 L619.19,246.22 L619.89,245.83 L620.58,245.44 L621.27,245.03 L621.96,244.62 L622.65,244.20 L623.33,243.77 L624.01,243.34 L624.68,242.90 L625.35,242.45 L626.02,242.00 L626.68,241.54 L627.34,241.08 L627.99,240.62 L628.64,240.16 L629.29,239.69 L629.93,239.21 L630.57,238.73 L631.21,238.25 L631.84,237.75 L632.48,237.25 L633.10,236.75 L633.72,236.23 L634.34,235.71 L634.94,235.19 L635.54,234.65 L636.13,234.11 L636.71,233.57 L637.28,233.01 L637.84,232.45 L638.39,231.87 L638.94,231.29 L639.48,230.70 L640.01,230.10 L640.54,229.49 L641.06,228.87 L641.57,228.25 L642.07,227.62 L642.56,226.98 L643.05,226.34 L643.52,225.69 L643.98,225.04 L644.43,224.39 L644.88,223.73 L645.32,223.06 L645.75,222.39 L646.17,221.71 L646.59,221.02 L647.00,220.33 L647.40,219.63 L647.80,218.93 L648.18,218.22 L648.56,217.51 L648.93,216.80 L649.28,216.08 L649.63,215.36 L649.97,214.64 L650.29,213.91 L650.62,213.18 L650.93,212.45 L651.24,211.71 L651.54,210.97 L651.84,210.22 L652.13,209.47 L652.41,208.72 L652.68,207.96 L652.95,207.20 L653.21,206.44 L653.47,205.68 L653.72,204.92 L653.95,204.16 L654.19,203.39 L654.41,202.63 L654.63,201.86 L654.84,201.09 L655.05,200.32 L655.26,199.54 L655.46,198.76 L655.65,197.99 L655.84,197.21 L656.02,196.43 L656.20,195.64 L656.38,194.86 L656.56,194.08 L656.73,193.30 L656.89,192.51 L657.06,191.73 L657.22,190.95 L657.38,190.16 L657.53,189.38 L657.68,188.59 L657.83,187.80 L657.98,187.02 L658.12,186.23 L658.27,185.44 L658.40,184.65 L658.54,183.86 L658.68,183.07 L658.81,182.28 L658.94,181.49 L659.07,180.70 L659.19,179.91 L659.32,179.12 L659.44,178.33 L659.55,177.54 L659.67,176.74 L659.79,175.95 L659.90,175.16 L660.01,174.37 L660.12,173.57 L660.23,172.78 L660.34,171.99 L660.44,171.19 L660.55,170.40 L660.66,169.60 L660.76,168.81 L660.87,168.02 L660.97,167.22 L661.08,166.43 L661.19,165.63 L661.30,164.84 L661.41,164.05 L661.52,163.26 L661.63,162.46 L661.75,161.67 L661.86,160.88 L661.98,160.08 L662.10,159.29 L662.21,158.50 L662.33,157.71 L662.45,156.92 L662.56,156.12 L662.68,155.33 L662.80,154.54 L662.92,153.75 L663.04,152.96 L663.16,152.16 L663.28,151.37 L663.40,150.58 L663.52,149.79 L663.64,149.00 L663.76,148.21 L663.88,147.41 L664.00,146.62 L664.13,145.83 L664.25,145.04 L664.37,144.25 L664.50,143.46 L664.63,142.67 L664.76,141.88 L664.89,141.09 L665.03,140.30 L665.17,139.51 L665.30,138.72 L665.44,137.93 L665.58,137.14 L665.72,136.35 L665.85,135.56 L665.99,134.77 L666.12,133.98 L666.25,133.19 L666.38,132.40 L666.50,131.61 L666.62,130.82 L666.74,130.03 L666.85,129.23 L666.95,128.44 L667.05,127.65 L667.15,126.85 L667.24,126.06 L667.32,125.26 L667.40,124.47 L667.48,123.67 L667.56,122.87 L667.63,122.07 L667.70,121.28 L667.77,120.48 L667.84,119.68 L667.92,118.88 L667.99,118.08 L668.07,117.29 L668.15,116.49 L668.23,115.69 L668.31,114.90 L668.40,114.10 L668.50,113.31 L668.60,112.51 L668.69,111.72 L668.80,110.92 L668.90,110.13 L669.00,109.33 L669.11,108.54 L669.22,107.75 L669.32,106.95 L669.43,106.16 L669.54,105.37 L669.64,104.57 L669.75,103.78 L669.85,102.98 L669.95,102.19 L670.05,101.39 L670.15,100.60 L670.25,99.81 L670.35,99.01 L670.44,98.22 L670.54,97.42 L670.64,96.63 L670.74,95.83 L670.83,95.04 L670.93,94.24 L671.03,93.45 L671.13,92.65 L671.23,91.86 L671.33,91.06 L671.43,90.27 L671.54,89.48 L671.64,88.68 L671.75,87.89 L671.85,87.09 L671.96,86.30 L672.06,85.50 L672.17,84.71 L672.28,83.92 L672.38,83.12 L672.49,82.33 L672.61,81.54 L672.72,80.74 L672.84,79.95 L672.96,79.16 L673.08,78.37 L673.21,77.58 L673.33,76.79 L673.46,75.99 L673.59,75.20 L673.72,74.40 L673.86,73.60 L674.00,72.81 L674.16,72.02 L674.34,71.25 L674.53,70.48 L674.77,69.73 L675.04,68.99 L675.37,68.27 L675.74,67.56 L676.14,66.85 L676.35,66.50 L676.75,67.21 L677.13,67.93 L677.48,68.65 L677.79,69.39 L678.05,70.13 L678.26,70.88 L678.44,71.65 L678.59,72.42 L678.73,73.20 L678.86,73.99 L678.97,74.79 L679.08,75.59 L679.18,76.39 L679.27,77.19 L679.36,78.00 L679.44,78.80 L679.52,79.60 L679.60,80.40 L679.67,81.20 L679.74,81.99 L679.81,82.79 L679.87,83.59 L679.93,84.39 L679.99,85.18 L680.05,85.98 L680.10,86.78 L680.15,87.58 L680.20,88.38 L680.26,89.18 L680.31,89.98 L680.36,90.78 L680.42,91.58 L680.47,92.37 L680.53,93.17 L680.59,93.97 L680.66,94.77 L680.72,95.57 L680.79,96.36 L680.86,97.16 L680.93,97.96 L681.01,98.75 L681.08,99.55 L681.15,100.35 L681.23,101.15 L681.30,101.94 L681.38,102.74 L681.45,103.54 L681.52,104.33 L681.59,105.13 L681.66,105.93 L681.72,106.73 L681.78,107.52 L681.84,108.32 L681.90,109.12 L681.95,109.92 L682.01,110.72 L682.06,111.52 L682.11,112.32 L682.16,113.11 L682.22,113.91 L682.28,114.71 L682.34,115.51 L682.41,116.31 L682.49,117.10 L682.56,117.90 L682.64,118.70 L682.72,119.49 L682.81,120.29 L682.89,121.08 L682.98,121.88 L683.07,122.67 L683.16,123.47 L683.25,124.27 L683.33,125.06 L683.42,125.86 L683.51,126.65 L683.59,127.45 L683.67,128.25 L683.75,129.04 L683.83,129.84 L683.90,130.64 L683.97,131.43 L684.04,132.23 L684.11,133.03 L684.17,133.82 L684.23,134.62 L684.29,135.42 L684.35,136.22 L684.40,137.02 L684.46,137.82 L684.51,138.61 L684.57,139.41 L684.62,140.21 L684.67,141.01 L684.72,141.81 L684.78,142.61 L684.83,143.41 L684.88,144.21 L684.93,145.00 L684.98,145.80 L685.03,146.60 L685.08,147.40 L685.14,148.20 L685.19,149.00 L685.24,149.80 L685.30,150.59 L685.35,151.39 L685.41,152.19 L685.47,152.99 L685.53,153.79 L685.59,154.59 L685.65,155.38 L685.70,156.18 L685.76,156.98 L685.82,157.78 L685.88,158.58 L685.93,159.38 L685.99,160.18 L686.05,160.98 L686.11,161.78 L686.16,162.57 L686.22,163.37 L686.28,164.17 L686.34,164.97 L686.40,165.77 L686.46,166.57 L686.52,167.37 L686.58,168.16 L686.65,168.96 L686.71,169.76 L686.78,170.56 L686.85,171.36 L686.92,172.15 L686.99,172.95 L687.06,173.75 L687.13,174.54 L687.21,175.34 L687.29,176.14 L687.37,176.93 L687.45,177.73 L687.54,178.52 L687.63,179.31 L687.72,180.11 L687.82,180.90 L687.93,181.69 L688.05,182.48 L688.18,183.28 L688.31,184.07 L688.43,184.86 L688.56,185.65 L688.68,186.44 L688.80,187.23 L688.92,188.02 L689.03,188.81 L689.14,189.61 L689.25,190.40 L689.36,191.19 L689.46,191.99 L689.56,192.78 L689.66,193.57 L689.76,194.37 L689.85,195.16 L689.95,195.96 L690.05,196.75 L690.14,197.55 L690.24,198.34 L690.34,199.14 L690.45,199.93 L690.55,200.72 L690.66,201.52 L690.77,202.31 L690.89,203.10 L691.00,203.89 L691.12,204.68 L691.24,205.48 L691.36,206.27 L691.48,207.06 L691.60,207.85 L691.73,208.64 L691.85,209.43 L691.97,210.22 L692.10,211.01 L692.22,211.80 L692.34,212.59 L692.47,213.39 L692.58,214.18 L692.70,214.97 L692.82,215.76 L692.94,216.55 L693.05,217.35 L693.17,218.14 L693.29,218.93 L693.41,219.72 L693.54,220.52 L693.66,221.31 L693.79,222.10 L693.92,222.88 L694.06,223.67 L694.21,224.46 L694.36,225.24 L694.51,226.03 L694.68,226.81 L694.85,227.59 L695.03,228.37 L695.22,229.14 L695.42,229.92 L695.62,230.69 L695.83,231.47 L696.05,232.24 L696.26,233.01 L696.48,233.78 L696.70,234.55 L696.92,235.32 L697.15,236.09 L697.37,236.86 L697.60,237.63 L697.83,238.40 L698.07,239.17 L698.31,239.93 L698.56,240.70 L698.81,241.46 L699.07,242.21 L699.34,242.97 L699.61,243.72 L699.90,244.46 L700.19,245.20 L700.49,245.94 L700.81,246.67 L701.13,247.41 L701.47,248.14 L701.82,248.87 L702.17,249.59 L702.54,250.31 L702.92,251.02 L703.31,251.72 L703.70,252.41 L704.11,253.09 L704.53,253.77 L704.97,254.43 L705.42,255.09 L705.89,255.74 L706.37,256.38 L706.88,257.01 L707.39,257.63 L707.92,258.23 L708.47,258.82 L709.02,259.39 L709.59,259.95 L710.18,260.49 L710.79,261.01 L711.41,261.52 L712.04,262.02 L712.68,262.51 L713.33,262.99 L713.98,263.47 L714.65,263.94 L715.33,264.37 L716.02,264.76 L716.73,265.10 L717.45,265.40 L718.18,265.66 L718.93,265.90 L719.69,266.13 L720.47,266.34 L721.25,266.54 L722.04,266.73 L722.84,266.90 L723.64,267.05 L724.44,267.19 L725.24,267.30 L726.04,267.40 L726.83,267.48 L727.63,267.54 L728.42,267.59 L729.21,267.65 L730.01,267.69 L730.81,267.74 L731.61,267.78 L732.41,267.82 L733.21,267.86 L734.01,267.89 L734.82,267.92 L735.62,267.94 L736.42,267.96 L737.22,267.98 L738.03,267.99 L738.83,268.00 L739.63,268.00 L740.43,268.00 L741.23,268.00 L742.03,268.00 L742.83,268.00 L743.63,267.99 L744.43,267.99 L745.23,267.99 L746.03,267.99 L746.83,267.99 L747.63,267.98 L748.43,267.98 L749.23,267.98 L750.03,267.97 L750.83,267.97 L751.63,267.96 L752.43,267.96 L753.23,267.95 L754.03,267.95 L754.83,267.94 L755.63,267.94 L756.43,267.93 L757.23,267.93 L758.03,267.92 L758.83,267.91 L759.63,267.91 L760.43,267.90 L761.23,267.89 L762.03,267.89 L762.83,267.88 L763.63,267.87 L764.44,267.86 L765.24,267.86 L766.04,267.85 L766.84,267.84 L767.64,267.83 L768.44,267.82 L769.24,267.81 L770.04,267.81 L770.84,267.80 L771.64,267.79 L772.44,267.78 L773.24,267.77 L774.04,267.76 L774.84,267.76 L775.64,267.75 L776.44,267.74 L777.24,267.73 L778.04,267.72 L778.84,267.71 L779.64,267.70 L780.44,267.69 L781.24,267.68 L782.05,267.68 L782.85,267.67 L783.65,267.66 L784.45,267.65 L785.25,267.64 L786.05,267.63 L786.85,267.62 L787.65,267.61 L788.45,267.61 L789.25,267.60 L790.05,267.59 L790.85,267.58 L791.65,267.57 L792.45,267.56 L793.25,267.55 L794.05,267.54 L794.85,267.53 L795.65,267.52 L796.45,267.51 L797.25,267.50 L798.05,267.49 L798.85,267.48 L799.65,267.46 L800.45,267.45 L801.25,267.44 L802.05,267.43 L802.85,267.42 L803.65,267.41 L804.45,267.39 L805.25,267.38 L806.05,267.37 L806.85,267.35 L807.65,267.34 L808.45,267.33 L809.26,267.31 L810.06,267.30 L810.86,267.28 L811.66,267.27 L812.46,267.26 L813.26,267.24 L814.06,267.23 L814.86,267.21 L815.66,267.20 L816.46,267.18 L817.26,267.17 L818.06,267.15 L818.86,267.13 L819.66,267.12 L820.46,267.10 L821.26,267.09 L822.06,267.07 L822.86,267.06 L823.66,267.04 L824.46,267.03 L825.26,267.01 L826.06,267.00 L826.86,266.98 L827.66,266.97 L828.46,266.96 L829.26,266.94 L830.06,266.93 L830.86,266.91 L831.66,266.90 L832.46,266.88 L833.26,266.87 L834.06,266.86 L834.86,266.84 L835.66,266.83 L836.46,266.81 L837.26,266.80 L838.06,266.79 L838.86,266.77 L839.66,266.76 L840.46,266.74 L841.26,266.73 L842.06,266.71 L842.86,266.70 L843.66,266.68 L844.47,266.67 L845.27,266.65 L846.07,266.64 L846.87,266.62 L847.67,266.61 L848.47,266.59 L849.27,266.57 L850.07,266.56 L850.87,266.54 L851.67,266.52 L852.47,266.50 L853.27,266.49 L854.07,266.47 L854.87,266.45 L855.67,266.43 L856.47,266.41 L857.27,266.40 L858.07,266.38 L858.87,266.36 L859.67,266.34 L860.47,266.32 L861.27,266.31 L862.07,266.29 L862.87,266.27 L863.67,266.26 L864.47,266.24 L865.27,266.22 L866.07,266.21 L866.87,266.19 L867.67,266.17 L868.47,266.16 L869.27,266.14 L870.07,266.12 L870.87,266.11 L871.67,266.09 L872.47,266.08 L873.27,266.06 L874.07,266.05 L874.87,266.04 L875.67,266.03 L876.47,266.02 L877.27,266.01 L878.07,266.00 L878.87,265.99 L879.67,265.99 L880.47,265.98 L881.27,265.98 L882.07,265.97 L882.88,265.97 L883.68,265.96 L884.48,265.95 L885.28,265.95 L886.08,265.95 L886.88,265.94 L887.68,265.94 L888.48,265.93 L889.28,265.93 L890.08,265.92 L890.88,265.92 L891.68,265.92 L892.48,265.91 L893.28,265.91 L894.08,265.91 L894.88,265.91 L895.68,265.91 L896.48,265.90 L897.28,265.90 L898.08,265.90 L898.88,265.90 L899.68,265.90 L900.48,265.90 L901.28,265.90 L902.08,265.90 L902.88,265.90 L903.68,265.90 L904.48,265.90 L905.29,265.90 L906.09,265.90 L906.89,265.90 L907.69,265.90 L908.49,265.90 L909.29,265.90 L910.09,265.90 L910.89,265.90 L911.69,265.90 L912.49,265.90 L913.29,265.90 L914.09,265.90 L914.89,265.90 L915.69,265.90 L916.49,265.90 L917.29,265.90 L918.09,265.90 L918.89,265.90 L919.69,265.90 L920.49,265.90 L921.29,265.90 L922.09,265.90 L922.89,265.90 L923.69,265.90 L924.49,265.90 L925.29,265.90 L926.09,265.90 L926.89,265.90 L927.70,265.90 L928.50,265.90 L929.30,265.90 L930.10,265.90 L930.90,265.90 L931.70,265.90 L932.50,265.90 L933.30,265.90 L934.10,265.90 L934.90,265.90 L935.70,265.90 L936.50,265.90 L937.30,265.90 L938.10,265.90 L938.50,265.90" fill="none" stroke="#ff0000" stroke-width="2.3" stroke-linejoin="miter" stroke-miterlimit="12"/>
<path d="M564.40,266.50 L565.20,266.43 L565.99,266.36 L566.79,266.28 L567.59,266.21 L568.38,266.14 L569.18,266.07 L569.98,266.00 L570.78,265.93 L571.57,265.85 L572.37,265.78 L573.17,265.71 L573.96,265.64 L574.76,265.57 L575.56,265.50 L576.36,265.43 L577.15,265.36 L577.95,265.29 L578.75,265.22 L579.54,265.16 L580.34,265.09 L581.14,265.02 L581.94,264.95 L582.73,264.88 L583.53,264.82 L584.33,264.75 L585.13,264.68 L585.92,264.61 L586.72,264.55 L587.52,264.48 L588.32,264.41 L589.11,264.35 L589.91,264.28 L590.71,264.22 L591.51,264.15 L592.30,264.09 L593.10,264.02 L593.90,263.96 L594.70,263.90 L595.49,263.83 L596.29,263.77 L597.09,263.71 L597.89,263.64 L598.68,263.58 L599.48,263.52 L600.28,263.46 L601.08,263.40 L601.88,263.33 L602.67,263.27 L603.47,263.21 L604.27,263.15 L605.07,263.09 L605.86,263.03 L606.66,262.97 L607.46,262.91 L608.26,262.85 L609.06,262.79 L609.85,262.72 L610.65,262.66 L611.45,262.60 L612.25,262.54 L613.05,262.48 L613.84,262.42 L614.64,262.36 L615.44,262.30 L616.24,262.24 L617.03,262.17 L617.83,262.11 L618.63,262.05 L619.43,261.99 L620.23,261.93 L621.02,261.87 L621.82,261.80 L622.62,261.74 L623.42,261.68 L624.22,261.62 L625.01,261.56 L625.81,261.50 L626.61,261.43 L627.41,261.37 L628.20,261.31 L629.00,261.25 L629.80,261.19 L630.60,261.12 L631.40,261.06 L632.19,261.00 L632.99,260.94 L633.79,260.88 L634.59,260.82 L635.38,260.75 L636.18,260.69 L636.98,260.63 L637.78,260.57 L638.58,260.51 L639.37,260.45 L640.17,260.38 L640.97,260.32 L641.77,260.26 L642.56,260.20 L643.36,260.14 L644.16,260.08 L644.96,260.01 L645.76,259.95 L646.55,259.89 L647.35,259.83 L648.15,259.77 L648.95,259.70 L649.75,259.64 L650.54,259.58 L651.34,259.52 L652.14,259.46 L652.94,259.40 L653.74,259.34 L654.53,259.28 L655.33,259.23 L656.13,259.17 L656.93,259.11 L657.73,259.05 L658.52,258.99 L659.32,258.94 L660.12,258.88 L660.92,258.82 L661.72,258.76 L662.52,258.70 L663.31,258.65 L664.11,258.59 L664.91,258.53 L665.71,258.47 L666.51,258.41 L667.30,258.35 L668.10,258.29 L668.90,258.22 L669.70,258.16 L670.50,258.10 L671.29,258.03 L672.09,257.97 L672.89,257.90 L673.68,257.84 L674.48,257.77 L675.28,257.70 L676.08,257.63 L676.87,257.56 L677.67,257.48 L678.47,257.41 L679.26,257.33 L680.06,257.25 L680.85,257.17 L681.65,257.09 L682.45,257.01 L683.24,256.92 L684.04,256.83 L684.83,256.74 L685.63,256.65 L686.42,256.56 L687.22,256.47 L688.01,256.37 L688.81,256.28 L689.60,256.18 L690.40,256.09 L691.19,256.00 L691.98,255.90 L692.78,255.81 L693.57,255.71 L694.37,255.62 L695.16,255.52 L695.96,255.43 L696.75,255.33 L697.55,255.23 L698.34,255.14 L699.14,255.04 L699.93,254.94 L700.72,254.84 L701.52,254.73 L702.31,254.63 L703.10,254.53 L703.90,254.42 L704.69,254.31 L705.48,254.21 L706.28,254.10 L707.07,253.99 L707.86,253.88 L708.65,253.77 L709.45,253.66 L710.24,253.54 L711.03,253.43 L711.83,253.32 L712.62,253.20 L713.41,253.08 L714.20,252.96 L714.99,252.84 L715.78,252.72 L716.57,252.59 L717.36,252.46 L718.15,252.33 L718.94,252.20 L719.73,252.07 L720.52,251.93 L721.30,251.78 L722.09,251.64 L722.87,251.49 L723.66,251.34 L724.44,251.18 L725.23,251.02 L726.01,250.86 L726.80,250.69 L727.58,250.52 L728.36,250.35 L729.15,250.17 L729.93,249.99 L730.71,249.81 L731.49,249.62 L732.27,249.43 L733.04,249.24 L733.82,249.04 L734.59,248.84 L735.36,248.63 L736.14,248.43 L736.90,248.21 L737.67,248.00 L738.44,247.78 L739.21,247.55 L739.97,247.32 L740.73,247.08 L741.50,246.84 L742.26,246.60 L743.02,246.34 L743.78,246.09 L744.54,245.82 L745.30,245.56 L746.05,245.29 L746.81,245.01 L747.56,244.73 L748.31,244.44 L749.06,244.15 L749.80,243.86 L750.55,243.56 L751.29,243.26 L752.02,242.96 L752.76,242.65 L753.49,242.33 L754.22,242.01 L754.95,241.68 L755.68,241.35 L756.40,241.01 L757.12,240.66 L757.84,240.30 L758.55,239.94 L759.27,239.57 L759.98,239.19 L760.68,238.81 L761.38,238.42 L762.08,238.03 L762.77,237.63 L763.46,237.22 L764.15,236.81 L764.83,236.40 L765.51,235.98 L766.18,235.55 L766.85,235.12 L767.52,234.67 L768.19,234.23 L768.85,233.77 L769.51,233.31 L770.16,232.84 L770.81,232.37 L771.46,231.90 L772.10,231.42 L772.73,230.93 L773.37,230.44 L774.00,229.95 L774.62,229.45 L775.24,228.95 L775.86,228.44 L776.48,227.93 L777.10,227.41 L777.71,226.89 L778.32,226.36 L778.92,225.83 L779.51,225.29 L780.10,224.74 L780.68,224.18 L781.25,223.62 L781.81,223.06 L782.36,222.48 L782.89,221.90 L783.42,221.30 L783.93,220.70 L784.43,220.09 L784.93,219.46 L785.41,218.83 L785.88,218.19 L786.35,217.54 L786.82,216.89 L787.28,216.23 L787.73,215.57 L788.18,214.90 L788.63,214.23 L789.08,213.56 L789.52,212.89 L789.97,212.22 L790.42,211.56 L790.87,210.89 L791.32,210.23 L791.77,209.56 L792.22,208.90 L792.67,208.24 L793.12,207.58 L793.56,206.91 L794.01,206.25 L794.45,205.58 L794.89,204.91 L795.34,204.25 L795.78,203.58 L796.22,202.91 L796.66,202.25 L797.10,201.58 L797.54,200.91 L797.98,200.24 L798.42,199.57 L798.86,198.90 L799.30,198.23 L799.74,197.56 L800.18,196.90 L800.63,196.23 L801.07,195.57 L801.52,194.91 L801.98,194.25 L802.44,193.59 L802.89,192.93 L803.36,192.28 L803.83,191.62 L804.30,190.98 L804.78,190.34 L805.28,189.71 L805.79,189.10 L806.31,188.49 L806.85,187.89 L807.40,187.30 L807.97,186.73 L808.56,186.20 L809.18,185.69 L809.82,185.22 L810.50,184.78 L811.20,184.40 L811.92,184.10 L812.67,183.88 L813.42,183.78 L814.19,183.80 L814.96,183.93 L815.71,184.14 L816.43,184.44 L817.11,184.80 L817.75,185.23 L818.35,185.73 L818.91,186.30 L819.45,186.91 L819.95,187.55 L820.42,188.21 L820.87,188.89 L821.29,189.57 L821.69,190.26 L822.07,190.96 L822.43,191.68 L822.78,192.40 L823.12,193.13 L823.45,193.87 L823.77,194.61 L824.09,195.34 L824.39,196.08 L824.69,196.83 L824.98,197.57 L825.26,198.32 L825.54,199.07 L825.82,199.82 L826.09,200.58 L826.36,201.33 L826.63,202.09 L826.89,202.84 L827.16,203.59 L827.43,204.35 L827.69,205.10 L827.96,205.86 L828.22,206.62 L828.48,207.37 L828.74,208.13 L829.00,208.89 L829.27,209.64 L829.53,210.40 L829.79,211.15 L830.06,211.91 L830.34,212.66 L830.61,213.41 L830.90,214.16 L831.18,214.90 L831.48,215.65 L831.77,216.39 L832.08,217.13 L832.38,217.87 L832.69,218.61 L833.00,219.35 L833.31,220.08 L833.63,220.82 L833.94,221.56 L834.26,222.29 L834.57,223.03 L834.88,223.76 L835.20,224.50 L835.51,225.24 L835.83,225.97 L836.14,226.71 L836.46,227.44 L836.78,228.18 L837.10,228.91 L837.42,229.64 L837.75,230.37 L838.07,231.10 L838.40,231.84 L838.72,232.57 L839.05,233.30 L839.38,234.02 L839.72,234.75 L840.05,235.48 L840.39,236.20 L840.73,236.93 L841.08,237.65 L841.43,238.37 L841.78,239.09 L842.13,239.81 L842.49,240.53 L842.85,241.24 L843.22,241.95 L843.60,242.66 L843.98,243.36 L844.38,244.05 L844.78,244.74 L845.20,245.43 L845.62,246.11 L846.05,246.79 L846.49,247.46 L846.94,248.13 L847.40,248.79 L847.87,249.44 L848.36,250.08 L848.85,250.70 L849.35,251.32 L849.87,251.92 L850.40,252.51 L850.94,253.09 L851.50,253.66 L852.08,254.22 L852.67,254.78 L853.26,255.31 L853.87,255.84 L854.49,256.35 L855.12,256.85 L855.76,257.33 L856.40,257.80 L857.05,258.25 L857.72,258.70 L858.40,259.12 L859.08,259.54 L859.78,259.94 L860.48,260.33 L861.19,260.71 L861.90,261.08 L862.62,261.43 L863.34,261.77 L864.07,262.10 L864.80,262.42 L865.54,262.73 L866.28,263.04 L867.03,263.33 L867.78,263.61 L868.53,263.88 L869.29,264.14 L870.05,264.40 L870.81,264.64 L871.57,264.88 L872.34,265.11 L873.11,265.34 L873.88,265.55 L874.65,265.76 L875.43,265.95 L876.21,266.13 L876.99,266.30 L877.78,266.46 L878.56,266.61 L879.35,266.75 L880.14,266.88 L880.93,267.01 L881.72,267.13 L882.51,267.24 L883.31,267.34 L884.11,267.43 L884.90,267.51 L885.70,267.57 L886.49,267.63 L887.29,267.68 L888.09,267.72 L888.89,267.77 L889.68,267.81 L890.48,267.84 L891.28,267.88 L892.08,267.91 L892.88,267.94 L893.68,267.97 L894.49,267.99 L895.29,268.02 L896.09,268.04 L896.89,268.05 L897.69,268.07 L898.49,268.08 L899.29,268.09 L900.09,268.10 L900.89,268.10 L901.69,268.11 L902.49,268.11 L903.29,268.12 L904.09,268.12 L904.89,268.13 L905.69,268.13 L906.49,268.13 L907.29,268.14 L908.09,268.14 L908.89,268.14 L909.69,268.15 L910.49,268.15 L911.29,268.15 L912.09,268.15 L912.89,268.16 L913.69,268.16 L914.49,268.16 L915.29,268.17 L916.09,268.17 L916.89,268.17 L917.69,268.17 L918.49,268.17 L919.29,268.18 L920.09,268.18 L920.89,268.18 L921.69,268.18 L922.49,268.18 L923.29,268.19 L924.09,268.19 L924.89,268.19 L925.69,268.19 L926.49,268.19 L927.29,268.19 L928.09,268.19 L928.89,268.19 L929.69,268.20 L930.50,268.20 L931.30,268.20 L932.10,268.20 L932.90,268.20 L933.70,268.20 L934.50,268.20 L935.30,268.20 L936.10,268.20 L936.90,268.20 L937.70,268.20 L938.50,268.20" fill="none" stroke="#0000ff" stroke-width="2.3" stroke-linejoin="round" stroke-miterlimit="12" stroke-dasharray="1.5 1.9"/>
<path d="M564.40,266.50 L565.20,266.43 L565.99,266.36 L566.79,266.28 L567.59,266.21 L568.38,266.14 L569.18,266.07 L569.98,266.00 L570.78,265.93 L571.57,265.85 L572.37,265.78 L573.17,265.71 L573.96,265.64 L574.76,265.57 L575.56,265.50 L576.36,265.43 L577.15,265.36 L577.95,265.29 L578.75,265.22 L579.54,265.16 L580.34,265.09 L581.14,265.02 L581.94,264.95 L582.73,264.88 L583.53,264.82 L584.33,264.75 L585.13,264.68 L585.92,264.61 L586.72,264.55 L587.52,264.48 L588.32,264.41 L589.11,264.35 L589.91,264.28 L590.71,264.22 L591.51,264.15 L592.30,264.09 L593.10,264.02 L593.90,263.96 L594.70,263.90 L595.49,263.83 L596.29,263.77 L597.09,263.71 L597.89,263.64 L598.68,263.58 L599.48,263.52 L600.28,263.46 L601.08,263.40 L601.88,263.33 L602.67,263.27 L603.47,263.21 L604.27,263.15 L605.07,263.09 L605.86,263.03 L606.66,262.97 L607.46,262.91 L608.26,262.85 L609.06,262.79 L609.85,262.72 L610.65,262.66 L611.45,262.60 L612.25,262.54 L613.05,262.48 L613.84,262.42 L614.64,262.36 L615.44,262.30 L616.24,262.24 L617.03,262.17 L617.83,262.11 L618.63,262.05 L619.43,261.99 L620.23,261.93 L621.02,261.87 L621.82,261.80 L622.62,261.74 L623.42,261.68 L624.22,261.62 L625.01,261.56 L625.81,261.50 L626.61,261.43 L627.41,261.37 L628.20,261.31 L629.00,261.25 L629.80,261.19 L630.60,261.12 L631.40,261.06 L632.19,261.00 L632.99,260.94 L633.79,260.88 L634.59,260.82 L635.38,260.75 L636.18,260.69 L636.98,260.63 L637.78,260.57 L638.58,260.51 L639.37,260.45 L640.17,260.38 L640.97,260.32 L641.77,260.26 L642.56,260.20 L643.36,260.14 L644.16,260.08 L644.96,260.01 L645.76,259.95 L646.55,259.89 L647.35,259.83 L648.15,259.77 L648.95,259.70 L649.75,259.64 L650.54,259.58 L651.34,259.52 L652.14,259.46 L652.94,259.40 L653.74,259.34 L654.53,259.28 L655.33,259.23 L656.13,259.17 L656.93,259.11 L657.73,259.05 L658.52,258.99 L659.32,258.94 L660.12,258.88 L660.92,258.82 L661.72,258.76 L662.52,258.70 L663.31,258.65 L664.11,258.59 L664.91,258.53 L665.71,258.47 L666.51,258.41 L667.30,258.35 L668.10,258.29 L668.90,258.22 L669.70,258.16 L670.50,258.10 L671.29,258.03 L672.09,257.97 L672.89,257.90 L673.68,257.84 L674.48,257.77 L675.28,257.70 L676.08,257.63 L676.87,257.56 L677.67,257.48 L678.47,257.41 L679.26,257.33 L680.06,257.25 L680.85,257.17 L681.65,257.09 L682.45,257.01 L683.24,256.92 L684.04,256.83 L684.83,256.74 L685.63,256.65 L686.42,256.56 L687.22,256.47 L688.01,256.37 L688.81,256.28 L689.60,256.18 L690.40,256.09 L691.19,256.00 L691.98,255.90 L692.78,255.81 L693.57,255.71 L694.37,255.62 L695.16,255.52 L695.96,255.43 L696.75,255.33 L697.55,255.23 L698.34,255.14 L699.14,255.04 L699.93,254.94 L700.72,254.84 L701.52,254.73 L702.31,254.63 L703.10,254.53 L703.90,254.42 L704.69,254.31 L705.48,254.21 L706.28,254.10 L707.07,253.99 L707.86,253.88 L708.65,253.77 L709.45,253.66 L710.24,253.54 L711.03,253.43 L711.83,253.32 L712.62,253.20 L713.41,253.08 L714.20,252.96 L714.99,252.84 L715.78,252.72 L716.57,252.59 L717.36,252.46 L718.15,252.33 L718.94,252.20 L719.73,252.07 L720.52,251.93 L721.30,251.78 L722.09,251.64 L722.87,251.49 L723.66,251.34 L724.44,251.18 L725.23,251.02 L726.01,250.86 L726.80,250.69 L727.58,250.52 L728.36,250.35 L729.15,250.17 L729.93,249.99 L730.71,249.81 L731.49,249.62 L732.27,249.43 L733.04,249.24 L733.82,249.04 L734.59,248.84 L735.36,248.63 L736.14,248.43 L736.90,248.21 L737.67,248.00 L738.44,247.78 L739.21,247.55 L739.97,247.32 L740.73,247.08 L741.50,246.84 L742.26,246.60 L743.02,246.34 L743.78,246.09 L744.54,245.82 L745.30,245.56 L746.05,245.29 L746.81,245.01 L747.56,244.73 L748.31,244.44 L749.06,244.15 L749.80,243.86 L750.55,243.56 L751.29,243.26 L752.02,242.96 L752.76,242.65 L753.49,242.33 L754.22,242.01 L754.95,241.68 L755.68,241.35 L756.40,241.01 L757.12,240.66 L757.84,240.30 L758.55,239.94 L759.27,239.57 L759.98,239.19 L760.68,238.81 L761.38,238.42 L762.08,238.03 L762.77,237.63 L763.46,237.22 L764.15,236.81 L764.83,236.40 L765.51,235.98 L766.18,235.55 L766.85,235.12 L767.52,234.67 L768.19,234.23 L768.85,233.77 L769.51,233.31 L770.16,232.84 L770.81,232.37 L771.46,231.90 L772.10,231.42 L772.73,230.93 L773.37,230.44 L774.00,229.95 L774.62,229.45 L775.24,228.95 L775.86,228.44 L776.48,227.93 L777.10,227.41 L777.71,226.89 L778.32,226.36 L778.92,225.83 L779.51,225.29 L780.10,224.74 L780.68,224.18 L781.25,223.62 L781.81,223.06 L782.36,222.48 L782.89,221.90 L783.42,221.30 L783.93,220.70 L784.43,220.09 L784.93,219.46 L785.41,218.83 L785.88,218.19 L786.35,217.54 L786.82,216.89 L787.28,216.23 L787.73,215.57 L788.18,214.90 L788.63,214.23 L789.08,213.56 L789.52,212.89 L789.97,212.22 L790.42,211.56 L790.87,210.89 L791.32,210.23 L791.77,209.56 L792.22,208.90 L792.67,208.24 L793.12,207.58 L793.56,206.91 L794.01,206.25 L794.45,205.58 L794.89,204.91 L795.34,204.25 L795.78,203.58 L796.22,202.91 L796.66,202.25 L797.10,201.58 L797.54,200.91 L797.98,200.24 L798.42,199.57 L798.86,198.90 L799.30,198.23 L799.74,197.56 L800.18,196.90 L800.63,196.23 L801.07,195.57 L801.52,194.91 L801.98,194.25 L802.44,193.59 L802.89,192.93 L803.36,192.28 L803.83,191.62 L804.30,190.98 L804.78,190.34 L805.28,189.71 L805.79,189.10 L806.31,188.49 L806.85,187.89 L807.40,187.30 L807.97,186.73 L808.56,186.20 L809.18,185.69 L809.82,185.22 L810.50,184.78 L811.20,184.40 L811.92,184.10 L812.67,183.88 L813.42,183.78 L814.19,183.80 L814.96,183.93 L815.71,184.14 L816.43,184.44 L817.11,184.80 L817.75,185.23 L818.35,185.73 L818.91,186.30 L819.45,186.91 L819.95,187.55 L820.42,188.21 L820.87,188.89 L821.29,189.57 L821.69,190.26 L822.07,190.96 L822.43,191.68 L822.78,192.40 L823.12,193.13 L823.45,193.87 L823.77,194.61 L824.09,195.34 L824.39,196.08 L824.69,196.83 L824.98,197.57 L825.26,198.32 L825.54,199.07 L825.82,199.82 L826.09,200.58 L826.36,201.33 L826.63,202.09 L826.89,202.84 L827.16,203.59 L827.43,204.35 L827.69,205.10 L827.96,205.86 L828.22,206.62 L828.48,207.37 L828.74,208.13 L829.00,208.89 L829.27,209.64 L829.53,210.40 L829.79,211.15 L830.06,211.91 L830.34,212.66 L830.61,213.41 L830.90,214.16 L831.18,214.90 L831.48,215.65 L831.77,216.39 L832.08,217.13 L832.38,217.87 L832.69,218.61 L833.00,219.35 L833.31,220.08 L833.63,220.82 L833.94,221.56 L834.26,222.29 L834.57,223.03 L834.88,223.76 L835.20,224.50 L835.51,225.24 L835.83,225.97 L836.14,226.71 L836.46,227.44 L836.78,228.18 L837.10,228.91 L837.42,229.64 L837.75,230.37 L838.07,231.10 L838.40,231.84 L838.72,232.57 L839.05,233.30 L839.38,234.02 L839.72,234.75 L840.05,235.48 L840.39,236.20 L840.73,236.93 L841.08,237.65 L841.43,238.37 L841.78,239.09 L842.13,239.81 L842.49,240.53 L842.85,241.24 L843.22,241.95 L843.60,242.66 L843.98,243.36 L844.38,244.05 L844.78,244.74 L845.20,245.43 L845.62,246.11 L846.05,246.79 L846.49,247.46 L846.94,248.13 L847.40,248.79 L847.87,249.44 L848.36,250.08 L848.85,250.70 L849.35,251.32 L849.87,251.92 L850.40,252.51 L850.94,253.09 L851.50,253.66 L852.08,254.22 L852.67,254.78 L853.26,255.31 L853.87,255.84 L854.49,256.35 L855.12,256.85 L855.76,257.33 L856.40,257.80 L857.05,258.25 L857.72,258.70 L858.40,259.12 L859.08,259.54 L859.78,259.94 L860.48,260.33 L861.19,260.71 L861.90,261.08 L862.62,261.43 L863.34,261.77 L864.07,262.10 L864.80,262.42 L865.54,262.73 L866.28,263.04 L867.03,263.33 L867.78,263.61 L868.53,263.88 L869.29,264.14 L870.05,264.40 L870.81,264.64 L871.57,264.88 L872.34,265.11 L873.11,265.34 L873.88,265.55 L874.65,265.76 L875.43,265.95 L876.21,266.13 L876.99,266.30 L877.78,266.46 L878.56,266.61 L879.35,266.75 L880.14,266.88 L880.93,267.01 L881.72,267.13 L882.51,267.24 L883.31,267.34 L884.11,267.43 L884.90,267.51 L885.70,267.57 L886.49,267.63 L887.29,267.68 L888.09,267.72 L888.89,267.77 L889.68,267.81 L890.48,267.84 L891.28,267.88 L892.08,267.91 L892.88,267.94 L893.68,267.97 L894.49,267.99 L895.29,268.02 L896.09,268.04 L896.89,268.05 L897.69,268.07 L898.49,268.08 L899.29,268.09 L900.09,268.10 L900.89,268.10 L901.69,268.11 L902.49,268.11 L903.29,268.12 L904.09,268.12 L904.89,268.13 L905.69,268.13 L906.49,268.13 L907.29,268.14 L908.09,268.14 L908.89,268.14 L909.69,268.15 L910.49,268.15 L911.29,268.15 L912.09,268.15 L912.89,268.16 L913.69,268.16 L914.49,268.16 L915.29,268.17 L916.09,268.17 L916.89,268.17 L917.69,268.17 L918.49,268.17 L919.29,268.18 L920.09,268.18 L920.89,268.18 L921.69,268.18 L922.49,268.18 L923.29,268.19 L924.09,268.19 L924.89,268.19 L925.69,268.19 L926.49,268.19 L927.29,268.19 L928.09,268.19 L928.89,268.19 L929.69,268.20 L930.50,268.20 L931.30,268.20 L932.10,268.20 L932.90,268.20 L933.70,268.20 L934.50,268.20 L935.30,268.20 L936.10,268.20 L936.90,268.20 L937.70,268.20 L938.50,268.20" fill="none" stroke="#000000" stroke-width="2.3" stroke-linejoin="round" stroke-miterlimit="12" stroke-dasharray="5.6 2.6"/>
</g>
<rect x="561.30" y="34.50" width="377.20" height="233.90" fill="none" stroke="#000" stroke-width="1.6"/>
<path d="M564.60,268.40 v-2.50 M564.60,34.50 v2.50 M689.23,268.40 v-2.50 M689.23,34.50 v2.50 M813.86,268.40 v-2.50 M813.86,34.50 v2.50 M561.30,234.99 h2.50 M938.50,234.99 h-2.50 M561.30,201.57 h2.50 M938.50,201.57 h-2.50 M561.30,168.16 h2.50 M938.50,168.16 h-2.50 M561.30,134.74 h2.50 M938.50,134.74 h-2.50 M561.30,101.33 h2.50 M938.50,101.33 h-2.50 M561.30,67.91 h2.50 M938.50,67.91 h-2.50" stroke="#000" stroke-width="1.15" fill="none"/>
<text x="550.70" y="274.50" text-anchor="end" font-size="18.1" stroke="#000" stroke-width="0.22" >0</text>
<text x="550.70" y="241.09" text-anchor="end" font-size="18.1" stroke="#000" stroke-width="0.22" >5</text>
<text x="550.70" y="207.67" text-anchor="end" font-size="18.1" stroke="#000" stroke-width="0.22" >10</text>
<text x="550.70" y="174.26" text-anchor="end" font-size="18.1" stroke="#000" stroke-width="0.22" >15</text>
<text x="550.70" y="140.84" text-anchor="end" font-size="18.1" stroke="#000" stroke-width="0.22" >20</text>
<text x="550.70" y="107.43" text-anchor="end" font-size="18.1" stroke="#000" stroke-width="0.22" >25</text>
<text x="550.70" y="74.01" text-anchor="end" font-size="18.1" stroke="#000" stroke-width="0.22" >30</text>
<text x="550.70" y="40.60" text-anchor="end" font-size="18.1" stroke="#000" stroke-width="0.22" >35</text>
<text x="567.10" y="291.60" text-anchor="middle" font-size="18.1" stroke="#000" stroke-width="0.22" >0</text>
<text x="691.73" y="291.60" text-anchor="middle" font-size="18.1" stroke="#000" stroke-width="0.22" >1</text>
<text x="816.36" y="291.60" text-anchor="middle" font-size="18.1" stroke="#000" stroke-width="0.22" >2</text>
<text x="940.99" y="291.60" text-anchor="middle" font-size="18.1" stroke="#000" stroke-width="0.22" >3</text>
<text x="854.40" y="57.80" text-anchor="end" font-size="18.1" stroke="#000" stroke-width="0.22" letter-spacing="-0.5">a=0</text>
<text x="854.40" y="75.60" text-anchor="end" font-size="18.1" stroke="#000" stroke-width="0.22" letter-spacing="-0.5">a=8</text>
<text x="854.40" y="93.30" text-anchor="end" font-size="18.1" stroke="#000" stroke-width="0.22" letter-spacing="-0.5">a=3</text>
<path d="M865.80,51.90 H917.20" stroke="#ff0000" stroke-width="2.2"/>
<path d="M865.80,69.70 H915.50" stroke="#0000ff" stroke-width="2.2" stroke-dasharray="1.5 1.9"/>
<path d="M865.80,87.40 H917.20" stroke="#000000" stroke-width="2.2" stroke-dasharray="5.6 2.6"/>
<g transform="translate(504.90,211.60) rotate(-90)"><text transform="translate(-1.46,0.00) scale(1.018,1)" font-family="Liberation Serif, serif" font-style="normal" font-size="18.6" fill="#3c3c3c">16</text><text transform="translate(19.99,0.00) scale(1.168,1)" font-family="Liberation Serif, serif" font-style="italic" font-size="17" fill="#3c3c3c">π</text><text transform="translate(34.85,0.00) scale(0.920,1)" font-family="Liberation Serif, serif" font-style="normal" font-size="19.5" fill="#3c3c3c">Im</text><text transform="translate(60.53,0.00) scale(1.019,1)" font-family="Liberation Serif, serif" font-style="normal" font-size="19.5" fill="#3c3c3c">Π</text><text transform="translate(74.98,3.50) scale(1.362,1)" font-family="Liberation Serif, serif" font-style="italic" font-size="14" fill="#3c3c3c">S</text><text transform="translate(84.92,-1.40) scale(1.019,1)" font-family="Liberation Serif, serif" font-style="italic" font-size="9.3" fill="#3c3c3c">a</text><text transform="translate(95.76,3.20) scale(0.983,1)" font-family="Liberation Serif, serif" font-style="normal" font-size="25" fill="#555">×</text><text transform="translate(114.05,0.00) scale(1.067,1)" font-family="Liberation Serif, serif" font-style="normal" font-size="18.6" fill="#3c3c3c">3</text><text transform="translate(126.74,4.70) scale(0.948,1)" font-family="Liberation Serif, serif" font-style="italic" font-size="28.5" fill="#666">/</text><text transform="translate(134.75,0.00) scale(1.046,1)" font-family="Liberation Serif, serif" font-style="italic" font-size="19.5" fill="#3c3c3c">N</text><text transform="translate(148.82,3.50) scale(1.001,1)" font-family="Liberation Serif, serif" font-style="italic" font-size="14" fill="#3c3c3c">C</text></g>
<text transform="translate(721.25,319.40) scale(1.101,1)" font-family="Liberation Serif, serif" font-style="italic" font-size="18.6" fill="#3c3c3c">s</text><text transform="translate(730.58,319.40) scale(0.779,1)" font-family="Liberation Serif, serif" font-style="normal" font-size="21" fill="#3c3c3c">(</text><text transform="translate(736.36,319.40) scale(1.037,1)" font-family="Liberation Serif, serif" font-style="normal" font-size="19.8" fill="#3c3c3c">GeV</text><text transform="translate(774.80,310.90) scale(0.994,1)" font-family="Liberation Serif, serif" font-style="normal" font-size="13.8" fill="#3c3c3c">2</text><text transform="translate(782.81,319.40) scale(0.871,1)" font-family="Liberation Serif, serif" font-style="normal" font-size="21" fill="#3c3c3c">)</text>
<text transform="translate(726.64,13.60) scale(0.964,1)" font-family="Liberation Serif, serif" font-style="italic" font-size="20" fill="#3c3c3c">N</text><text transform="translate(740.53,16.60) scale(0.990,1)" font-family="Liberation Serif, serif" font-style="italic" font-size="14" fill="#3c3c3c">C</text><text transform="translate(756.33,15.50) scale(1.310,1)" font-family="Liberation Serif, serif" font-style="normal" font-size="21" fill="#444">=</text><text transform="translate(776.93,13.60) scale(1.088,1)" font-family="Liberation Serif, serif" font-style="normal" font-size="18.6" fill="#3c3c3c">30</text>
</svg>
</body></html>
